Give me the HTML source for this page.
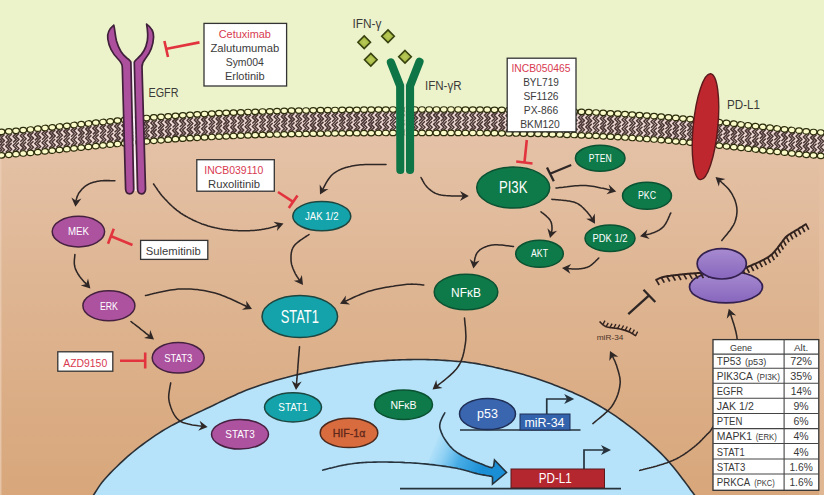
<!DOCTYPE html>
<html><head><meta charset="utf-8"><title>PD-L1 regulation</title>
<style>html,body{margin:0;padding:0;background:#ecf3ca;}body{width:824px;height:495px;overflow:hidden;}svg{display:block;font-family:"Liberation Sans",sans-serif;}</style>
</head><body>
<svg width="824" height="495" viewBox="0 0 824 495">
<defs>
<linearGradient id="cyto" x1="0" y1="0" x2="0" y2="1"><stop offset="0" stop-color="#e5c3a9"/><stop offset="0.45" stop-color="#deb592"/><stop offset="1" stop-color="#d8a67a"/></linearGradient>
<linearGradient id="rib" x1="0" y1="0" x2="0" y2="1"><stop offset="0" stop-color="#a78bd0"/><stop offset="1" stop-color="#8766bd"/></linearGradient>
<linearGradient id="bigarrow" gradientUnits="userSpaceOnUse" x1="432" y1="447" x2="482" y2="469"><stop offset="0" stop-color="#3aa8e6" stop-opacity="0"/><stop offset="0.25" stop-color="#38a8e6" stop-opacity="0.3"/><stop offset="0.55" stop-color="#2d9fe0" stop-opacity="0.8"/><stop offset="1" stop-color="#1b8fd6" stop-opacity="1"/></linearGradient>
<radialGradient id="dia"><stop offset="0" stop-color="#bccb5a"/><stop offset="1" stop-color="#9db23a"/></radialGradient>
</defs>
<rect width="824" height="495" fill="#ecf3ca"/>
<path d="M-4,500 L-4,144 L4,143.5 L12,142.8 L20,142.1 L28,141.4 L36,140.6 L44,139.8 L52,139 L60,138.2 L68,137.3 L76,136.5 L84,135.6 L92,134.8 L100,134 L108,133.2 L116,132.4 L124,131.7 L132,131 L140,130.3 L148,129.6 L156,128.9 L164,128.3 L172,127.7 L180,127.2 L188,126.7 L196,126.2 L204,125.7 L212,125.3 L220,124.9 L228,124.5 L236,124.2 L244,123.9 L252,123.6 L260,123.3 L268,123.1 L276,122.8 L284,122.6 L292,122.4 L300,122.3 L308,122.1 L316,122 L324,121.9 L332,121.7 L340,121.6 L348,121.6 L356,121.5 L364,121.4 L372,121.4 L380,121.3 L388,121.3 L396,121.2 L404,121.2 L412,121.2 L420,121.2 L428,121.2 L436,121.2 L444,121.2 L452,121.2 L460,121.2 L468,121.3 L476,121.3 L484,121.4 L492,121.5 L500,121.6 L508,121.7 L516,121.8 L524,121.9 L532,122.1 L540,122.3 L548,122.5 L556,122.7 L564,122.9 L572,123.2 L580,123.5 L588,123.9 L596,124.2 L604,124.6 L612,125 L620,125.5 L628,126 L636,126.5 L644,127.1 L652,127.7 L660,128.3 L668,128.9 L676,129.6 L684,130.4 L692,131.1 L700,131.9 L708,132.7 L716,133.5 L724,134.4 L732,135.2 L740,136.1 L748,137 L756,137.9 L764,138.8 L772,139.6 L780,140.5 L788,141.3 L796,142.1 L804,142.9 L812,143.5 L820,144.2 L828,144.7 L830,500 Z" fill="url(#cyto)"/>
<rect x="0" y="150" width="1.5" height="345" fill="#ecd0b8" opacity="0.7"/>
<rect x="819" y="150" width="5" height="345" fill="#e6c2a4" opacity="0.6"/>
<path d="M84,510 L85,508.4 L86.5,506.1 L88.1,503.5 L90,500.6 L91.8,497.7 L93.6,495 L95.2,492.5 L96.7,490.1 L98.3,487.6 L100,485.1 L101.9,482.5 L104.2,479.7 L106.9,476.7 L110,473.4 L113.3,470 L116.7,466.7 L120.1,463.4 L123.4,460.3 L126.6,457.4 L129.8,454.7 L133,452 L136.2,449.4 L139.4,446.9 L142.6,444.5 L145.8,442.1 L149,439.8 L152.2,437.6 L155.4,435.4 L158.6,433.3 L161.8,431.3 L164.9,429.4 L168,427.6 L171,425.9 L174.2,424.2 L177.5,422.5 L181,420.7 L184.9,418.8 L189.2,416.7 L193.6,414.6 L198,412.6 L202.2,410.6 L206,408.8 L209.4,407.2 L212.6,405.7 L215.5,404.2 L218.3,402.9 L221.1,401.5 L224,400.2 L226.9,398.8 L229.7,397.5 L232.6,396.2 L235.4,394.9 L238.2,393.6 L241,392.4 L243.8,391.2 L246.7,390.1 L249.5,389 L252.3,388 L255.2,387 L258,386 L260.8,385 L263.7,384.1 L266.5,383.2 L269.3,382.3 L272.2,381.4 L275,380.6 L277.8,379.8 L280.7,379 L283.5,378.2 L286.3,377.5 L289.2,376.7 L292,376 L294.8,375.3 L297.7,374.6 L300.6,373.9 L303.4,373.3 L306.2,372.6 L309,372 L311.8,371.4 L314.6,370.8 L317.3,370.3 L320,369.7 L322.6,369.3 L325,368.8 L327.2,368.4 L329.1,368.1 L330.9,367.8 L332.8,367.5 L334.8,367.2 L337,366.8 L339.5,366.3 L342.3,365.8 L345.2,365.3 L348.1,364.8 L351.1,364.3 L354,363.8 L356.8,363.4 L359.7,363 L362.5,362.6 L365.3,362.3 L368.2,362 L371,361.7 L373.8,361.4 L376.7,361.2 L379.5,361 L382.3,360.8 L385.2,360.6 L388,360.4 L390.8,360.2 L393.7,360.1 L396.5,360 L399.3,359.9 L402.2,359.8 L405,359.7 L407.8,359.6 L410.7,359.6 L413.5,359.5 L416.3,359.5 L419.2,359.5 L422,359.5 L424.8,359.5 L427.7,359.6 L430.6,359.7 L433.4,359.8 L436.2,359.9 L439,360 L441.8,360.2 L444.6,360.4 L447.3,360.6 L450,360.8 L452.6,361 L455,361.2 L457.2,361.4 L459.1,361.5 L460.9,361.6 L462.8,361.7 L464.8,361.9 L467,362.2 L469.5,362.6 L472.3,363 L475.2,363.4 L478.1,363.9 L481.1,364.5 L484,365 L486.8,365.6 L489.7,366.2 L492.5,366.8 L495.3,367.5 L498.2,368.1 L501,368.8 L503.8,369.5 L506.7,370.1 L509.5,370.8 L512.3,371.5 L515.2,372.2 L518,373 L520.8,373.8 L523.7,374.6 L526.5,375.4 L529.3,376.3 L532.2,377.2 L535,378.1 L537.8,379 L540.7,380 L543.5,381 L546.3,382 L549.2,383 L552,384.1 L554.8,385.2 L557.7,386.3 L560.5,387.4 L563.3,388.5 L566.2,389.7 L569,390.9 L571.9,392.1 L574.8,393.4 L577.7,394.7 L580.5,396 L583.4,397.3 L586.2,398.7 L588.9,400.1 L591.6,401.5 L594.3,403 L597,404.5 L599.6,406 L602.3,407.6 L605,409.2 L607.7,410.9 L610.4,412.7 L613.1,414.4 L615.8,416.2 L618.5,418.1 L621.1,420 L623.7,421.8 L626.3,423.8 L629,425.8 L631.7,427.9 L634.6,430.2 L637.7,432.7 L641,435.5 L644.5,438.4 L647.9,441.3 L651.1,444.2 L654.1,446.9 L656.8,449.4 L659.2,451.7 L661.5,453.9 L663.8,456.2 L666,458.6 L668.3,461.1 L670.7,463.9 L673.1,466.8 L675.5,469.8 L677.9,472.8 L680.2,475.8 L682.4,478.7 L684.6,481.5 L686.7,484.4 L688.7,487.1 L690.7,489.9 L692.7,492.5 L694.5,495 L696.3,497.5 L698.2,500.1 L700,502.5 L701.6,504.8 L703,506.6 L704,508 L704,512 L84,512 Z" fill="#b6e3fa" stroke="none"/>
<path d="M84,510 L85,508.4 L86.5,506.1 L88.1,503.5 L90,500.6 L91.8,497.7 L93.6,495 L95.2,492.5 L96.7,490.1 L98.3,487.6 L100,485.1 L101.9,482.5 L104.2,479.7 L106.9,476.7 L110,473.4 L113.3,470 L116.7,466.7 L120.1,463.4 L123.4,460.3 L126.6,457.4 L129.8,454.7 L133,452 L136.2,449.4 L139.4,446.9 L142.6,444.5 L145.8,442.1 L149,439.8 L152.2,437.6 L155.4,435.4 L158.6,433.3 L161.8,431.3 L164.9,429.4 L168,427.6 L171,425.9 L174.2,424.2 L177.5,422.5 L181,420.7 L184.9,418.8 L189.2,416.7 L193.6,414.6 L198,412.6 L202.2,410.6 L206,408.8 L209.4,407.2 L212.6,405.7 L215.5,404.2 L218.3,402.9 L221.1,401.5 L224,400.2 L226.9,398.8 L229.7,397.5 L232.6,396.2 L235.4,394.9 L238.2,393.6 L241,392.4 L243.8,391.2 L246.7,390.1 L249.5,389 L252.3,388 L255.2,387 L258,386 L260.8,385 L263.7,384.1 L266.5,383.2 L269.3,382.3 L272.2,381.4 L275,380.6 L277.8,379.8 L280.7,379 L283.5,378.2 L286.3,377.5 L289.2,376.7 L292,376 L294.8,375.3 L297.7,374.6 L300.6,373.9 L303.4,373.3 L306.2,372.6 L309,372 L311.8,371.4 L314.6,370.8 L317.3,370.3 L320,369.7 L322.6,369.3 L325,368.8 L327.2,368.4 L329.1,368.1 L330.9,367.8 L332.8,367.5 L334.8,367.2 L337,366.8 L339.5,366.3 L342.3,365.8 L345.2,365.3 L348.1,364.8 L351.1,364.3 L354,363.8 L356.8,363.4 L359.7,363 L362.5,362.6 L365.3,362.3 L368.2,362 L371,361.7 L373.8,361.4 L376.7,361.2 L379.5,361 L382.3,360.8 L385.2,360.6 L388,360.4 L390.8,360.2 L393.7,360.1 L396.5,360 L399.3,359.9 L402.2,359.8 L405,359.7 L407.8,359.6 L410.7,359.6 L413.5,359.5 L416.3,359.5 L419.2,359.5 L422,359.5 L424.8,359.5 L427.7,359.6 L430.6,359.7 L433.4,359.8 L436.2,359.9 L439,360 L441.8,360.2 L444.6,360.4 L447.3,360.6 L450,360.8 L452.6,361 L455,361.2 L457.2,361.4 L459.1,361.5 L460.9,361.6 L462.8,361.7 L464.8,361.9 L467,362.2 L469.5,362.6 L472.3,363 L475.2,363.4 L478.1,363.9 L481.1,364.5 L484,365 L486.8,365.6 L489.7,366.2 L492.5,366.8 L495.3,367.5 L498.2,368.1 L501,368.8 L503.8,369.5 L506.7,370.1 L509.5,370.8 L512.3,371.5 L515.2,372.2 L518,373 L520.8,373.8 L523.7,374.6 L526.5,375.4 L529.3,376.3 L532.2,377.2 L535,378.1 L537.8,379 L540.7,380 L543.5,381 L546.3,382 L549.2,383 L552,384.1 L554.8,385.2 L557.7,386.3 L560.5,387.4 L563.3,388.5 L566.2,389.7 L569,390.9 L571.9,392.1 L574.8,393.4 L577.7,394.7 L580.5,396 L583.4,397.3 L586.2,398.7 L588.9,400.1 L591.6,401.5 L594.3,403 L597,404.5 L599.6,406 L602.3,407.6 L605,409.2 L607.7,410.9 L610.4,412.7 L613.1,414.4 L615.8,416.2 L618.5,418.1 L621.1,420 L623.7,421.8 L626.3,423.8 L629,425.8 L631.7,427.9 L634.6,430.2 L637.7,432.7 L641,435.5 L644.5,438.4 L647.9,441.3 L651.1,444.2 L654.1,446.9 L656.8,449.4 L659.2,451.7 L661.5,453.9 L663.8,456.2 L666,458.6 L668.3,461.1 L670.7,463.9 L673.1,466.8 L675.5,469.8 L677.9,472.8 L680.2,475.8 L682.4,478.7 L684.6,481.5 L686.7,484.4 L688.7,487.1 L690.7,489.9 L692.7,492.5 L694.5,495 L696.3,497.5 L698.2,500.1 L700,502.5 L701.6,504.8 L703,506.6 L704,508" fill="none" stroke="#2b3036" stroke-width="1.6"/>
<path d="M-4,133.3 L4,132.8 L12,132.1 L20,131.4 L28,130.7 L36,129.9 L44,129.1 L52,128.3 L60,127.5 L68,126.6 L76,125.8 L84,124.9 L92,124.1 L100,123.3 L108,122.5 L116,121.7 L124,121 L132,120.3 L140,119.6 L148,118.9 L156,118.2 L164,117.6 L172,117 L180,116.5 L188,116 L196,115.5 L204,115 L212,114.6 L220,114.2 L228,113.8 L236,113.5 L244,113.2 L252,112.9 L260,112.6 L268,112.4 L276,112.1 L284,111.9 L292,111.7 L300,111.6 L308,111.4 L316,111.3 L324,111.2 L332,111 L340,110.9 L348,110.9 L356,110.8 L364,110.7 L372,110.7 L380,110.6 L388,110.6 L396,110.5 L404,110.5 L412,110.5 L420,110.5 L428,110.5 L436,110.5 L444,110.5 L452,110.5 L460,110.5 L468,110.6 L476,110.6 L484,110.7 L492,110.8 L500,110.9 L508,111 L516,111.1 L524,111.2 L532,111.4 L540,111.6 L548,111.8 L556,112 L564,112.2 L572,112.5 L580,112.8 L588,113.2 L596,113.5 L604,113.9 L612,114.3 L620,114.8 L628,115.3 L636,115.8 L644,116.4 L652,117 L660,117.6 L668,118.2 L676,118.9 L684,119.7 L692,120.4 L700,121.2 L708,122 L716,122.8 L724,123.7 L732,124.5 L740,125.4 L748,126.3 L756,127.2 L764,128.1 L772,128.9 L780,129.8 L788,130.6 L796,131.4 L804,132.2 L812,132.8 L820,133.5 L828,134 L828,155.4 L820,154.9 L812,154.2 L804,153.6 L796,152.8 L788,152 L780,151.2 L772,150.3 L764,149.5 L756,148.6 L748,147.7 L740,146.8 L732,145.9 L724,145.1 L716,144.2 L708,143.4 L700,142.6 L692,141.8 L684,141.1 L676,140.3 L668,139.6 L660,139 L652,138.4 L644,137.8 L636,137.2 L628,136.7 L620,136.2 L612,135.7 L604,135.3 L596,134.9 L588,134.6 L580,134.2 L572,133.9 L564,133.6 L556,133.4 L548,133.2 L540,133 L532,132.8 L524,132.6 L516,132.5 L508,132.4 L500,132.3 L492,132.2 L484,132.1 L476,132 L468,132 L460,131.9 L452,131.9 L444,131.9 L436,131.9 L428,131.9 L420,131.9 L412,131.9 L404,131.9 L396,131.9 L388,132 L380,132 L372,132.1 L364,132.1 L356,132.2 L348,132.3 L340,132.3 L332,132.4 L324,132.6 L316,132.7 L308,132.8 L300,133 L292,133.1 L284,133.3 L276,133.5 L268,133.8 L260,134 L252,134.3 L244,134.6 L236,134.9 L228,135.2 L220,135.6 L212,136 L204,136.4 L196,136.9 L188,137.4 L180,137.9 L172,138.4 L164,139 L156,139.6 L148,140.3 L140,141 L132,141.7 L124,142.4 L116,143.1 L108,143.9 L100,144.7 L92,145.5 L84,146.3 L76,147.2 L68,148 L60,148.9 L52,149.7 L44,150.5 L36,151.3 L28,152.1 L20,152.8 L12,153.5 L4,154.2 L-4,154.7 Z" fill="#edd8d3"/>
<g id="mem">
<path d="M1.8,134.5 L-1.5,137.6 L1.8,140.6 L-1.5,143.6 M4.5,134.5 L1.2,137.6 L4.5,140.6 L1.2,143.6 M-1.5,152.7 L1.8,149.7 L-1.5,146.7 L1.8,143.6 M1.2,152.7 L4.5,149.7 L1.2,146.7 L4.5,143.6 M9,134 L5.8,137 L9,140.1 L5.8,143.1 M11.7,134 L8.5,137 L11.7,140.1 L8.5,143.1 M5.8,152.2 L9,149.2 L5.8,146.1 L9,143.1 M8.5,152.2 L11.7,149.2 L8.5,146.1 L11.7,143.1 M16.2,133.4 L13.1,136.4 L16.2,139.4 L13.1,142.5 M19,133.4 L15.8,136.4 L19,139.4 L15.8,142.5 M13.1,151.6 L16.2,148.5 L13.1,145.5 L16.2,142.5 M15.8,151.6 L19,148.5 L15.8,145.5 L19,142.5 M23.5,132.7 L20.3,135.8 L23.5,138.8 L20.3,141.8 M26.2,132.7 L23,135.8 L26.2,138.8 L23,141.8 M20.3,150.9 L23.5,147.9 L20.3,144.9 L23.5,141.8 M23,150.9 L26.2,147.9 L23,144.9 L26.2,141.8 M30.8,132.1 L27.5,135.1 L30.8,138.1 L27.5,141.2 M33.5,132.1 L30.2,135.1 L33.5,138.1 L30.2,141.2 M27.5,150.3 L30.8,147.2 L27.5,144.2 L30.8,141.2 M30.2,150.3 L33.5,147.2 L30.2,144.2 L33.5,141.2 M38,131.3 L34.8,134.4 L38,137.4 L34.8,140.4 M40.7,131.3 L37.5,134.4 L40.7,137.4 L37.5,140.4 M34.8,149.5 L38,146.5 L34.8,143.5 L38,140.4 M37.5,149.5 L40.7,146.5 L37.5,143.5 L40.7,140.4 M45.2,130.6 L42,133.6 L45.2,136.7 L42,139.7 M48,130.6 L44.8,133.6 L48,136.7 L44.8,139.7 M42,148.8 L45.2,145.8 L42,142.7 L45.2,139.7 M44.8,148.8 L48,145.8 L44.8,142.7 L48,139.7 M52.5,129.9 L49.3,132.9 L52.5,135.9 L49.3,139 M55.2,129.9 L52,132.9 L55.2,135.9 L52,139 M49.3,148.1 L52.5,145 L49.3,142 L52.5,139 M52,148.1 L55.2,145 L52,142 L55.2,139 M59.8,129.1 L56.5,132.1 L59.8,135.2 L56.5,138.2 M62.5,129.1 L59.2,132.1 L62.5,135.2 L59.2,138.2 M56.5,147.3 L59.8,144.3 L56.5,141.2 L59.8,138.2 M59.2,147.3 L62.5,144.3 L59.2,141.2 L62.5,138.2 M67,128.4 L63.8,131.4 L67,134.4 L63.8,137.5 M69.7,128.4 L66.5,131.4 L69.7,134.4 L66.5,137.5 M63.8,146.6 L67,143.5 L63.8,140.5 L67,137.5 M66.5,146.6 L69.7,143.5 L66.5,140.5 L69.7,137.5 M74.2,127.6 L71.1,130.6 L74.2,133.7 L71.1,136.7 M76.9,127.6 L73.8,130.6 L76.9,133.7 L73.8,136.7 M71.1,145.8 L74.2,142.8 L71.1,139.7 L74.2,136.7 M73.8,145.8 L76.9,142.8 L73.8,139.7 L76.9,136.7 M81.5,126.8 L78.3,129.9 L81.5,132.9 L78.3,135.9 M84.2,126.8 L81,129.9 L84.2,132.9 L81,135.9 M78.3,145 L81.5,142 L78.3,139 L81.5,135.9 M81,145 L84.2,142 L81,139 L84.2,135.9 M88.8,126.1 L85.6,129.1 L88.8,132.1 L85.6,135.2 M91.4,126.1 L88.2,129.1 L91.4,132.1 L88.2,135.2 M85.6,144.3 L88.8,141.2 L85.6,138.2 L88.8,135.2 M88.2,144.3 L91.4,141.2 L88.2,138.2 L91.4,135.2 M96,125.3 L92.8,128.4 L96,131.4 L92.8,134.4 M98.7,125.3 L95.5,128.4 L98.7,131.4 L95.5,134.4 M92.8,143.5 L96,140.5 L92.8,137.5 L96,134.4 M95.5,143.5 L98.7,140.5 L95.5,137.5 L98.7,134.4 M103.2,124.6 L100.1,127.6 L103.2,130.7 L100.1,133.7 M105.9,124.6 L102.8,127.6 L105.9,130.7 L102.8,133.7 M100.1,142.8 L103.2,139.8 L100.1,136.7 L103.2,133.7 M102.8,142.8 L105.9,139.8 L102.8,136.7 L105.9,133.7 M110.5,123.9 L107.3,126.9 L110.5,130 L107.3,133 M113.2,123.9 L110,126.9 L113.2,130 L110,133 M107.3,142.1 L110.5,139.1 L107.3,136 L110.5,133 M110,142.1 L113.2,139.1 L110,136 L113.2,133 M117.8,123.2 L114.6,126.2 L117.8,129.3 L114.6,132.3 M120.4,123.2 L117.2,126.2 L120.4,129.3 L117.2,132.3 M114.6,141.4 L117.8,138.4 L114.6,135.3 L117.8,132.3 M117.2,141.4 L120.4,138.4 L117.2,135.3 L120.4,132.3 M125,122.5 L121.8,125.5 L125,128.6 L121.8,131.6 M127.7,122.5 L124.5,125.5 L127.7,128.6 L124.5,131.6 M121.8,140.7 L125,137.7 L121.8,134.6 L125,131.6 M124.5,140.7 L127.7,137.7 L124.5,134.6 L127.7,131.6 M132.2,121.9 L129.1,124.9 L132.2,127.9 L129.1,131 M134.9,121.9 L131.8,124.9 L134.9,127.9 L131.8,131 M129.1,140.1 L132.2,137 L129.1,134 L132.2,131 M131.8,140.1 L134.9,137 L131.8,134 L134.9,131 M139.5,121.2 L136.3,124.2 L139.5,127.3 L136.3,130.3 M142.2,121.2 L139,124.2 L142.2,127.3 L139,130.3 M136.3,139.4 L139.5,136.4 L136.3,133.3 L139.5,130.3 M139,139.4 L142.2,136.4 L139,133.3 L142.2,130.3 M146.8,120.6 L143.6,123.6 L146.8,126.7 L143.6,129.7 M149.4,120.6 L146.2,123.6 L149.4,126.7 L146.2,129.7 M143.6,138.8 L146.8,135.8 L143.6,132.7 L146.8,129.7 M146.2,138.8 L149.4,135.8 L146.2,132.7 L149.4,129.7 M154,120 L150.8,123 L154,126.1 L150.8,129.1 M156.7,120 L153.5,123 L156.7,126.1 L153.5,129.1 M150.8,138.2 L154,135.2 L150.8,132.1 L154,129.1 M153.5,138.2 L156.7,135.2 L153.5,132.1 L156.7,129.1 M161.2,119.5 L158.1,122.5 L161.2,125.5 L158.1,128.6 M163.9,119.5 L160.8,122.5 L163.9,125.5 L160.8,128.6 M158.1,137.7 L161.2,134.6 L158.1,131.6 L161.2,128.6 M160.8,137.7 L163.9,134.6 L160.8,131.6 L163.9,128.6 M168.5,118.9 L165.3,121.9 L168.5,125 L165.3,128 M171.2,118.9 L168,121.9 L171.2,125 L168,128 M165.3,137.1 L168.5,134.1 L165.3,131 L168.5,128 M168,137.1 L171.2,134.1 L168,131 L171.2,128 M175.8,118.4 L172.6,121.4 L175.8,124.5 L172.6,127.5 M178.4,118.4 L175.2,121.4 L178.4,124.5 L175.2,127.5 M172.6,136.6 L175.8,133.6 L172.6,130.5 L175.8,127.5 M175.2,136.6 L178.4,133.6 L175.2,130.5 L178.4,127.5 M183,117.9 L179.8,120.9 L183,124 L179.8,127 M185.7,117.9 L182.5,120.9 L185.7,124 L182.5,127 M179.8,136.1 L183,133.1 L179.8,130 L183,127 M182.5,136.1 L185.7,133.1 L182.5,130 L185.7,127 M190.2,117.4 L187.1,120.5 L190.2,123.5 L187.1,126.5 M192.9,117.4 L189.8,120.5 L192.9,123.5 L189.8,126.5 M187.1,135.6 L190.2,132.6 L187.1,129.6 L190.2,126.5 M189.8,135.6 L192.9,132.6 L189.8,129.6 L192.9,126.5 M197.5,117 L194.3,120 L197.5,123.1 L194.3,126.1 M200.2,117 L197,120 L200.2,123.1 L197,126.1 M194.3,135.2 L197.5,132.2 L194.3,129.1 L197.5,126.1 M197,135.2 L200.2,132.2 L197,129.1 L200.2,126.1 M204.8,116.6 L201.6,119.6 L204.8,122.7 L201.6,125.7 M207.4,116.6 L204.2,119.6 L207.4,122.7 L204.2,125.7 M201.6,134.8 L204.8,131.8 L201.6,128.7 L204.8,125.7 M204.2,134.8 L207.4,131.8 L204.2,128.7 L207.4,125.7 M212,116.2 L208.8,119.2 L212,122.3 L208.8,125.3 M214.7,116.2 L211.5,119.2 L214.7,122.3 L211.5,125.3 M208.8,134.4 L212,131.4 L208.8,128.3 L212,125.3 M211.5,134.4 L214.7,131.4 L211.5,128.3 L214.7,125.3 M219.2,115.8 L216.1,118.9 L219.2,121.9 L216.1,124.9 M221.9,115.8 L218.8,118.9 L221.9,121.9 L218.8,124.9 M216.1,134 L219.2,131 L216.1,128 L219.2,124.9 M218.8,134 L221.9,131 L218.8,128 L221.9,124.9 M226.5,115.5 L223.3,118.5 L226.5,121.6 L223.3,124.6 M229.2,115.5 L226,118.5 L229.2,121.6 L226,124.6 M223.3,133.7 L226.5,130.7 L223.3,127.6 L226.5,124.6 M226,133.7 L229.2,130.7 L226,127.6 L229.2,124.6 M233.8,115.2 L230.6,118.2 L233.8,121.3 L230.6,124.3 M236.4,115.2 L233.2,118.2 L236.4,121.3 L233.2,124.3 M230.6,133.4 L233.8,130.4 L230.6,127.3 L233.8,124.3 M233.2,133.4 L236.4,130.4 L233.2,127.3 L236.4,124.3 M241,114.9 L237.8,117.9 L241,121 L237.8,124 M243.7,114.9 L240.5,117.9 L243.7,121 L240.5,124 M237.8,133.1 L241,130.1 L237.8,127 L241,124 M240.5,133.1 L243.7,130.1 L240.5,127 L243.7,124 M248.2,114.6 L245.1,117.7 L248.2,120.7 L245.1,123.7 M250.9,114.6 L247.8,117.7 L250.9,120.7 L247.8,123.7 M245.1,132.8 L248.2,129.8 L245.1,126.8 L248.2,123.7 M247.8,132.8 L250.9,129.8 L247.8,126.8 L250.9,123.7 M255.5,114.4 L252.3,117.4 L255.5,120.4 L252.3,123.5 M258.2,114.4 L255,117.4 L258.2,120.4 L255,123.5 M252.3,132.6 L255.5,129.5 L252.3,126.5 L255.5,123.5 M255,132.6 L258.2,129.5 L255,126.5 L258.2,123.5 M262.8,114.1 L259.5,117.2 L262.8,120.2 L259.5,123.2 M265.5,114.1 L262.2,117.2 L265.5,120.2 L262.2,123.2 M259.5,132.3 L262.8,129.3 L259.5,126.3 L262.8,123.2 M262.2,132.3 L265.5,129.3 L262.2,126.3 L265.5,123.2 M270,113.9 L266.8,116.9 L270,120 L266.8,123 M272.7,113.9 L269.5,116.9 L272.7,120 L269.5,123 M266.8,132.1 L270,129.1 L266.8,126 L270,123 M269.5,132.1 L272.7,129.1 L269.5,126 L272.7,123 M277.2,113.7 L274,116.7 L277.2,119.8 L274,122.8 M280,113.7 L276.8,116.7 L280,119.8 L276.8,122.8 M274,131.9 L277.2,128.9 L274,125.8 L277.2,122.8 M276.8,131.9 L280,128.9 L276.8,125.8 L280,122.8 M284.5,113.5 L281.3,116.6 L284.5,119.6 L281.3,122.6 M287.2,113.5 L284,116.6 L287.2,119.6 L284,122.6 M281.3,131.7 L284.5,128.7 L281.3,125.7 L284.5,122.6 M284,131.7 L287.2,128.7 L284,125.7 L287.2,122.6 M291.8,113.3 L288.5,116.4 L291.8,119.4 L288.5,122.4 M294.5,113.3 L291.2,116.4 L294.5,119.4 L291.2,122.4 M288.5,131.5 L291.8,128.5 L288.5,125.5 L291.8,122.4 M291.2,131.5 L294.5,128.5 L291.2,125.5 L294.5,122.4 M299,113.2 L295.8,116.2 L299,119.3 L295.8,122.3 M301.7,113.2 L298.5,116.2 L301.7,119.3 L298.5,122.3 M295.8,131.4 L299,128.4 L295.8,125.3 L299,122.3 M298.5,131.4 L301.7,128.4 L298.5,125.3 L301.7,122.3 M306.2,113.1 L303,116.1 L306.2,119.1 L303,122.2 M309,113.1 L305.8,116.1 L309,119.1 L305.8,122.2 M303,131.3 L306.2,128.2 L303,125.2 L306.2,122.2 M305.8,131.3 L309,128.2 L305.8,125.2 L309,122.2 M313.5,112.9 L310.3,116 L313.5,119 L310.3,122 M316.2,112.9 L313,116 L316.2,119 L313,122 M310.3,131.1 L313.5,128.1 L310.3,125.1 L313.5,122 M313,131.1 L316.2,128.1 L313,125.1 L316.2,122 M320.8,112.8 L317.5,115.8 L320.8,118.9 L317.5,121.9 M323.5,112.8 L320.2,115.8 L323.5,118.9 L320.2,121.9 M317.5,131 L320.8,128 L317.5,124.9 L320.8,121.9 M320.2,131 L323.5,128 L320.2,124.9 L323.5,121.9 M328,112.7 L324.8,115.7 L328,118.8 L324.8,121.8 M330.7,112.7 L327.5,115.7 L330.7,118.8 L327.5,121.8 M324.8,130.9 L328,127.9 L324.8,124.8 L328,121.8 M327.5,130.9 L330.7,127.9 L327.5,124.8 L330.7,121.8 M335.2,112.6 L332,115.6 L335.2,118.7 L332,121.7 M338,112.6 L334.8,115.6 L338,118.7 L334.8,121.7 M332,130.8 L335.2,127.8 L332,124.7 L335.2,121.7 M334.8,130.8 L338,127.8 L334.8,124.7 L338,121.7 M342.5,112.5 L339.3,115.6 L342.5,118.6 L339.3,121.6 M345.2,112.5 L342,115.6 L345.2,118.6 L342,121.6 M339.3,130.7 L342.5,127.7 L339.3,124.7 L342.5,121.6 M342,130.7 L345.2,127.7 L342,124.7 L345.2,121.6 M349.8,112.4 L346.5,115.5 L349.8,118.5 L346.5,121.5 M352.5,112.4 L349.2,115.5 L352.5,118.5 L349.2,121.5 M346.5,130.6 L349.8,127.6 L346.5,124.6 L349.8,121.5 M349.2,130.6 L352.5,127.6 L349.2,124.6 L352.5,121.5 M357,112.4 L353.8,115.4 L357,118.4 L353.8,121.5 M359.7,112.4 L356.5,115.4 L359.7,118.4 L356.5,121.5 M353.8,130.6 L357,127.5 L353.8,124.5 L357,121.5 M356.5,130.6 L359.7,127.5 L356.5,124.5 L359.7,121.5 M364.2,112.3 L361,115.3 L364.2,118.4 L361,121.4 M367,112.3 L363.8,115.3 L367,118.4 L363.8,121.4 M361,130.5 L364.2,127.5 L361,124.4 L364.2,121.4 M363.8,130.5 L367,127.5 L363.8,124.4 L367,121.4 M371.5,112.3 L368.3,115.3 L371.5,118.3 L368.3,121.4 M374.2,112.3 L371,115.3 L374.2,118.3 L371,121.4 M368.3,130.5 L371.5,127.4 L368.3,124.4 L371.5,121.4 M371,130.5 L374.2,127.4 L371,124.4 L374.2,121.4 M378.8,112.2 L375.5,115.2 L378.8,118.3 L375.5,121.3 M381.5,112.2 L378.2,115.2 L381.5,118.3 L378.2,121.3 M375.5,130.4 L378.8,127.4 L375.5,124.3 L378.8,121.3 M378.2,130.4 L381.5,127.4 L378.2,124.3 L381.5,121.3 M386,112.2 L382.8,115.2 L386,118.2 L382.8,121.3 M388.7,112.2 L385.5,115.2 L388.7,118.2 L385.5,121.3 M382.8,130.4 L386,127.3 L382.8,124.3 L386,121.3 M385.5,130.4 L388.7,127.3 L385.5,124.3 L388.7,121.3 M393.2,112.1 L390,115.2 L393.2,118.2 L390,121.2 M396,112.1 L392.8,115.2 L396,118.2 L392.8,121.2 M390,130.3 L393.2,127.3 L390,124.3 L393.2,121.2 M392.8,130.3 L396,127.3 L392.8,124.3 L396,121.2 M400.5,112.1 L397.3,115.1 L400.5,118.2 L397.3,121.2 M403.2,112.1 L400,115.1 L403.2,118.2 L400,121.2 M397.3,130.3 L400.5,127.3 L397.3,124.2 L400.5,121.2 M400,130.3 L403.2,127.3 L400,124.2 L403.2,121.2 M407.8,112.1 L404.5,115.1 L407.8,118.2 L404.5,121.2 M410.5,112.1 L407.2,115.1 L410.5,118.2 L407.2,121.2 M404.5,130.3 L407.8,127.3 L404.5,124.2 L407.8,121.2 M407.2,130.3 L410.5,127.3 L407.2,124.2 L410.5,121.2 M415,112.1 L411.8,115.1 L415,118.1 L411.8,121.2 M417.7,112.1 L414.5,115.1 L417.7,118.1 L414.5,121.2 M411.8,130.3 L415,127.2 L411.8,124.2 L415,121.2 M414.5,130.3 L417.7,127.2 L414.5,124.2 L417.7,121.2 M422.2,112.1 L419,115.1 L422.2,118.1 L419,121.2 M425,112.1 L421.8,115.1 L425,118.1 L421.8,121.2 M419,130.3 L422.2,127.2 L419,124.2 L422.2,121.2 M421.8,130.3 L425,127.2 L421.8,124.2 L425,121.2 M429.5,112.1 L426.3,115.1 L429.5,118.1 L426.3,121.2 M432.2,112.1 L429,115.1 L432.2,118.1 L429,121.2 M426.3,130.3 L429.5,127.2 L426.3,124.2 L429.5,121.2 M429,130.3 L432.2,127.2 L429,124.2 L432.2,121.2 M436.8,112.1 L433.5,115.1 L436.8,118.1 L433.5,121.2 M439.5,112.1 L436.2,115.1 L439.5,118.1 L436.2,121.2 M433.5,130.3 L436.8,127.2 L433.5,124.2 L436.8,121.2 M436.2,130.3 L439.5,127.2 L436.2,124.2 L439.5,121.2 M444,112.1 L440.8,115.1 L444,118.1 L440.8,121.2 M446.7,112.1 L443.5,115.1 L446.7,118.1 L443.5,121.2 M440.8,130.3 L444,127.2 L440.8,124.2 L444,121.2 M443.5,130.3 L446.7,127.2 L443.5,124.2 L446.7,121.2 M451.2,112.1 L448,115.1 L451.2,118.2 L448,121.2 M454,112.1 L450.8,115.1 L454,118.2 L450.8,121.2 M448,130.3 L451.2,127.3 L448,124.2 L451.2,121.2 M450.8,130.3 L454,127.3 L450.8,124.2 L454,121.2 M458.5,112.1 L455.3,115.2 L458.5,118.2 L455.3,121.2 M461.2,112.1 L458,115.2 L461.2,118.2 L458,121.2 M455.3,130.3 L458.5,127.3 L455.3,124.3 L458.5,121.2 M458,130.3 L461.2,127.3 L458,124.3 L461.2,121.2 M465.8,112.2 L462.5,115.2 L465.8,118.2 L462.5,121.3 M468.5,112.2 L465.2,115.2 L468.5,118.2 L465.2,121.3 M462.5,130.4 L465.8,127.3 L462.5,124.3 L465.8,121.3 M465.2,130.4 L468.5,127.3 L465.2,124.3 L468.5,121.3 M473,112.2 L469.8,115.2 L473,118.3 L469.8,121.3 M475.7,112.2 L472.5,115.2 L475.7,118.3 L472.5,121.3 M469.8,130.4 L473,127.4 L469.8,124.3 L473,121.3 M472.5,130.4 L475.7,127.4 L472.5,124.3 L475.7,121.3 M480.2,112.2 L477,115.3 L480.2,118.3 L477,121.3 M483,112.2 L479.8,115.3 L483,118.3 L479.8,121.3 M477,130.4 L480.2,127.4 L477,124.4 L480.2,121.3 M479.8,130.4 L483,127.4 L479.8,124.4 L483,121.3 M487.5,112.3 L484.3,115.3 L487.5,118.4 L484.3,121.4 M490.2,112.3 L487,115.3 L490.2,118.4 L487,121.4 M484.3,130.5 L487.5,127.5 L484.3,124.4 L487.5,121.4 M487,130.5 L490.2,127.5 L487,124.4 L490.2,121.4 M494.8,112.4 L491.5,115.4 L494.8,118.5 L491.5,121.5 M497.5,112.4 L494.2,115.4 L497.5,118.5 L494.2,121.5 M491.5,130.6 L494.8,127.6 L491.5,124.5 L494.8,121.5 M494.2,130.6 L497.5,127.6 L494.2,124.5 L497.5,121.5 M502,112.5 L498.8,115.5 L502,118.5 L498.8,121.6 M504.7,112.5 L501.5,115.5 L504.7,118.5 L501.5,121.6 M498.8,130.7 L502,127.6 L498.8,124.6 L502,121.6 M501.5,130.7 L504.7,127.6 L501.5,124.6 L504.7,121.6 M509.2,112.6 L506,115.6 L509.2,118.6 L506,121.7 M512,112.6 L508.8,115.6 L512,118.6 L508.8,121.7 M506,130.8 L509.2,127.7 L506,124.7 L509.2,121.7 M508.8,130.8 L512,127.7 L508.8,124.7 L512,121.7 M516.5,112.7 L513.3,115.7 L516.5,118.8 L513.3,121.8 M519.2,112.7 L516,115.7 L519.2,118.8 L516,121.8 M513.3,130.9 L516.5,127.9 L513.3,124.8 L516.5,121.8 M516,130.9 L519.2,127.9 L516,124.8 L519.2,121.8 M523.8,112.8 L520.5,115.9 L523.8,118.9 L520.5,121.9 M526.5,112.8 L523.2,115.9 L526.5,118.9 L523.2,121.9 M520.5,131 L523.8,128 L520.5,125 L523.8,121.9 M523.2,131 L526.5,128 L523.2,125 L526.5,121.9 M531,113 L527.8,116 L531,119 L527.8,122.1 M533.7,113 L530.5,116 L533.7,119 L530.5,122.1 M527.8,131.2 L531,128.1 L527.8,125.1 L531,122.1 M530.5,131.2 L533.7,128.1 L530.5,125.1 L533.7,122.1 M538.2,113.1 L535,116.2 L538.2,119.2 L535,122.2 M541,113.1 L537.8,116.2 L541,119.2 L537.8,122.2 M535,131.3 L538.2,128.3 L535,125.3 L538.2,122.2 M537.8,131.3 L541,128.3 L537.8,125.3 L541,122.2 M545.5,113.3 L542.3,116.3 L545.5,119.4 L542.3,122.4 M548.2,113.3 L545,116.3 L548.2,119.4 L545,122.4 M542.3,131.5 L545.5,128.5 L542.3,125.4 L545.5,122.4 M545,131.5 L548.2,128.5 L545,125.4 L548.2,122.4 M552.8,113.5 L549.5,116.5 L552.8,119.6 L549.5,122.6 M555.5,113.5 L552.2,116.5 L555.5,119.6 L552.2,122.6 M549.5,131.7 L552.8,128.7 L549.5,125.6 L552.8,122.6 M552.2,131.7 L555.5,128.7 L552.2,125.6 L555.5,122.6 M560,113.7 L556.8,116.7 L560,119.8 L556.8,122.8 M562.7,113.7 L559.5,116.7 L562.7,119.8 L559.5,122.8 M556.8,131.9 L560,128.9 L556.8,125.8 L560,122.8 M559.5,131.9 L562.7,128.9 L559.5,125.8 L562.7,122.8 M567.2,114 L564,117 L567.2,120 L564,123.1 M570,114 L566.8,117 L570,120 L566.8,123.1 M564,132.2 L567.2,129.1 L564,126.1 L567.2,123.1 M566.8,132.2 L570,129.1 L566.8,126.1 L570,123.1 M574.5,114.2 L571.3,117.2 L574.5,120.3 L571.3,123.3 M577.2,114.2 L574,117.2 L577.2,120.3 L574,123.3 M571.3,132.4 L574.5,129.4 L571.3,126.3 L574.5,123.3 M574,132.4 L577.2,129.4 L574,126.3 L577.2,123.3 M581.8,114.5 L578.5,117.5 L581.8,120.6 L578.5,123.6 M584.5,114.5 L581.2,117.5 L584.5,120.6 L581.2,123.6 M578.5,132.7 L581.8,129.7 L578.5,126.6 L581.8,123.6 M581.2,132.7 L584.5,129.7 L581.2,126.6 L584.5,123.6 M589,114.8 L585.8,117.8 L589,120.9 L585.8,123.9 M591.7,114.8 L588.5,117.8 L591.7,120.9 L588.5,123.9 M585.8,133 L589,130 L585.8,126.9 L589,123.9 M588.5,133 L591.7,130 L588.5,126.9 L591.7,123.9 M596.2,115.1 L593,118.2 L596.2,121.2 L593,124.2 M599,115.1 L595.8,118.2 L599,121.2 L595.8,124.2 M593,133.3 L596.2,130.3 L593,127.3 L596.2,124.2 M595.8,133.3 L599,130.3 L595.8,127.3 L599,124.2 M603.5,115.5 L600.3,118.5 L603.5,121.5 L600.3,124.6 M606.2,115.5 L603,118.5 L606.2,121.5 L603,124.6 M600.3,133.7 L603.5,130.6 L600.3,127.6 L603.5,124.6 M603,133.7 L606.2,130.6 L603,127.6 L606.2,124.6 M610.8,115.9 L607.5,118.9 L610.8,121.9 L607.5,125 M613.5,115.9 L610.2,118.9 L613.5,121.9 L610.2,125 M607.5,134.1 L610.8,131 L607.5,128 L610.8,125 M610.2,134.1 L613.5,131 L610.2,128 L613.5,125 M618,116.3 L614.8,119.3 L618,122.3 L614.8,125.4 M620.7,116.3 L617.5,119.3 L620.7,122.3 L617.5,125.4 M614.8,134.5 L618,131.4 L614.8,128.4 L618,125.4 M617.5,134.5 L620.7,131.4 L617.5,128.4 L620.7,125.4 M625.2,116.7 L622,119.7 L625.2,122.8 L622,125.8 M628,116.7 L624.8,119.7 L628,122.8 L624.8,125.8 M622,134.9 L625.2,131.9 L622,128.8 L625.2,125.8 M624.8,134.9 L628,131.9 L624.8,128.8 L628,125.8 M632.5,117.2 L629.3,120.2 L632.5,123.2 L629.3,126.3 M635.2,117.2 L632,120.2 L635.2,123.2 L632,126.3 M629.3,135.4 L632.5,132.3 L629.3,129.3 L632.5,126.3 M632,135.4 L635.2,132.3 L632,129.3 L635.2,126.3 M639.8,117.7 L636.5,120.7 L639.8,123.7 L636.5,126.8 M642.5,117.7 L639.2,120.7 L642.5,123.7 L639.2,126.8 M636.5,135.9 L639.8,132.8 L636.5,129.8 L639.8,126.8 M639.2,135.9 L642.5,132.8 L639.2,129.8 L642.5,126.8 M647,118.2 L643.8,121.2 L647,124.2 L643.8,127.3 M649.7,118.2 L646.5,121.2 L649.7,124.2 L646.5,127.3 M643.8,136.4 L647,133.3 L643.8,130.3 L647,127.3 M646.5,136.4 L649.7,133.3 L646.5,130.3 L649.7,127.3 M654.2,118.7 L651,121.7 L654.2,124.8 L651,127.8 M657,118.7 L653.8,121.7 L657,124.8 L653.8,127.8 M651,136.9 L654.2,133.9 L651,130.8 L654.2,127.8 M653.8,136.9 L657,133.9 L653.8,130.8 L657,127.8 M661.5,119.3 L658.3,122.3 L661.5,125.4 L658.3,128.4 M664.2,119.3 L661,122.3 L664.2,125.4 L661,128.4 M658.3,137.5 L661.5,134.5 L658.3,131.4 L661.5,128.4 M661,137.5 L664.2,134.5 L661,131.4 L664.2,128.4 M668.8,119.9 L665.5,122.9 L668.8,126 L665.5,129 M671.5,119.9 L668.2,122.9 L671.5,126 L668.2,129 M665.5,138.1 L668.8,135.1 L665.5,132 L668.8,129 M668.2,138.1 L671.5,135.1 L668.2,132 L671.5,129 M676,120.5 L672.8,123.5 L676,126.6 L672.8,129.6 M678.7,120.5 L675.5,123.5 L678.7,126.6 L675.5,129.6 M672.8,138.7 L676,135.7 L672.8,132.6 L676,129.6 M675.5,138.7 L678.7,135.7 L675.5,132.6 L678.7,129.6 M683.2,121.2 L680,124.2 L683.2,127.2 L680,130.3 M686,121.2 L682.8,124.2 L686,127.2 L682.8,130.3 M680,139.4 L683.2,136.3 L680,133.3 L683.2,130.3 M682.8,139.4 L686,136.3 L682.8,133.3 L686,130.3 M690.5,121.8 L687.3,124.9 L690.5,127.9 L687.3,130.9 M693.2,121.8 L690,124.9 L693.2,127.9 L690,130.9 M687.3,140 L690.5,137 L687.3,134 L690.5,130.9 M690,140 L693.2,137 L690,134 L693.2,130.9 M697.8,122.5 L694.5,125.6 L697.8,128.6 L694.5,131.6 M700.5,122.5 L697.2,125.6 L700.5,128.6 L697.2,131.6 M694.5,140.7 L697.8,137.7 L694.5,134.7 L697.8,131.6 M697.2,140.7 L700.5,137.7 L697.2,134.7 L700.5,131.6 M705,123.3 L701.8,126.3 L705,129.3 L701.8,132.4 M707.7,123.3 L704.5,126.3 L707.7,129.3 L704.5,132.4 M701.8,141.5 L705,138.4 L701.8,135.4 L705,132.4 M704.5,141.5 L707.7,138.4 L704.5,135.4 L707.7,132.4 M712.2,124 L709,127 L712.2,130.1 L709,133.1 M715,124 L711.8,127 L715,130.1 L711.8,133.1 M709,142.2 L712.2,139.2 L709,136.1 L712.2,133.1 M711.8,142.2 L715,139.2 L711.8,136.1 L715,133.1 M719.5,124.8 L716.3,127.8 L719.5,130.8 L716.3,133.9 M722.2,124.8 L719,127.8 L722.2,130.8 L719,133.9 M716.3,143 L719.5,139.9 L716.3,136.9 L719.5,133.9 M719,143 L722.2,139.9 L719,136.9 L722.2,133.9 M726.8,125.5 L723.5,128.6 L726.8,131.6 L723.5,134.6 M729.5,125.5 L726.2,128.6 L729.5,131.6 L726.2,134.6 M723.5,143.7 L726.8,140.7 L723.5,137.7 L726.8,134.6 M726.2,143.7 L729.5,140.7 L726.2,137.7 L729.5,134.6 M734,126.3 L730.8,129.4 L734,132.4 L730.8,135.4 M736.7,126.3 L733.5,129.4 L736.7,132.4 L733.5,135.4 M730.8,144.5 L734,141.5 L730.8,138.5 L734,135.4 M733.5,144.5 L736.7,141.5 L733.5,138.5 L736.7,135.4 M741.2,127.1 L738,130.1 L741.2,133.2 L738,136.2 M744,127.1 L740.8,130.1 L744,133.2 L740.8,136.2 M738,145.3 L741.2,142.3 L738,139.2 L741.2,136.2 M740.8,145.3 L744,142.3 L740.8,139.2 L744,136.2 M748.5,127.9 L745.3,130.9 L748.5,134 L745.3,137 M751.2,127.9 L748,130.9 L751.2,134 L748,137 M745.3,146.1 L748.5,143.1 L745.3,140 L748.5,137 M748,146.1 L751.2,143.1 L748,140 L751.2,137 M755.8,128.7 L752.5,131.8 L755.8,134.8 L752.5,137.8 M758.5,128.7 L755.2,131.8 L758.5,134.8 L755.2,137.8 M752.5,146.9 L755.8,143.9 L752.5,140.9 L755.8,137.8 M755.2,146.9 L758.5,143.9 L755.2,140.9 L758.5,137.8 M763,129.5 L759.8,132.6 L763,135.6 L759.8,138.6 M765.7,129.5 L762.5,132.6 L765.7,135.6 L762.5,138.6 M759.8,147.7 L763,144.7 L759.8,141.7 L763,138.6 M762.5,147.7 L765.7,144.7 L762.5,141.7 L765.7,138.6 M770.2,130.3 L767,133.3 L770.2,136.4 L767,139.4 M773,130.3 L769.8,133.3 L773,136.4 L769.8,139.4 M767,148.5 L770.2,145.5 L767,142.4 L770.2,139.4 M769.8,148.5 L773,145.5 L769.8,142.4 L773,139.4 M777.5,131.1 L774.3,134.1 L777.5,137.2 L774.3,140.2 M780.2,131.1 L777,134.1 L780.2,137.2 L777,140.2 M774.3,149.3 L777.5,146.3 L774.3,143.2 L777.5,140.2 M777,149.3 L780.2,146.3 L777,143.2 L780.2,140.2 M784.8,131.9 L781.5,134.9 L784.8,137.9 L781.5,141 M787.5,131.9 L784.2,134.9 L787.5,137.9 L784.2,141 M781.5,150.1 L784.8,147 L781.5,144 L784.8,141 M784.2,150.1 L787.5,147 L784.2,144 L787.5,141 M792,132.6 L788.8,135.6 L792,138.7 L788.8,141.7 M794.7,132.6 L791.5,135.6 L794.7,138.7 L791.5,141.7 M788.8,150.8 L792,147.8 L788.8,144.7 L792,141.7 M791.5,150.8 L794.7,147.8 L791.5,144.7 L794.7,141.7 M799.2,133.3 L796,136.3 L799.2,139.4 L796,142.4 M802,133.3 L798.8,136.3 L802,139.4 L798.8,142.4 M796,151.5 L799.2,148.5 L796,145.4 L799.2,142.4 M798.8,151.5 L802,148.5 L798.8,145.4 L802,142.4 M806.5,134 L803.3,137 L806.5,140 L803.3,143.1 M809.2,134 L806,137 L809.2,140 L806,143.1 M803.3,152.2 L806.5,149.1 L803.3,146.1 L806.5,143.1 M806,152.2 L809.2,149.1 L806,146.1 L809.2,143.1 M813.8,134.6 L810.5,137.6 L813.8,140.6 L810.5,143.7 M816.5,134.6 L813.2,137.6 L816.5,140.6 L813.2,143.7 M810.5,152.8 L813.8,149.7 L810.5,146.7 L813.8,143.7 M813.2,152.8 L816.5,149.7 L813.2,146.7 L816.5,143.7 M821,135.1 L817.8,138.2 L821,141.2 L817.8,144.2 M823.7,135.1 L820.5,138.2 L823.7,141.2 L820.5,144.2 M817.8,153.3 L821,150.3 L817.8,147.3 L821,144.2 M820.5,153.3 L823.7,150.3 L820.5,147.3 L823.7,144.2 M828.2,135.6 L825,138.7 L828.2,141.7 L825,144.7 M831,135.6 L827.8,138.7 L831,141.7 L827.8,144.7 M825,153.8 L828.2,150.8 L825,147.8 L828.2,144.7 M827.8,153.8 L831,150.8 L827.8,147.8 L831,144.7" fill="none" stroke="#4a3735" stroke-width="1.5" stroke-linejoin="round"/>
<ellipse cx="1.5" cy="131.9" rx="3.4" ry="2.75" transform="rotate(-4.1 1.5 131.9)"/>
<ellipse cx="1.5" cy="155.3" rx="3.4" ry="2.75" transform="rotate(-4.1 1.5 155.3)"/>
<ellipse cx="8.8" cy="131.4" rx="3.4" ry="2.75" transform="rotate(-4.6 8.8 131.4)"/>
<ellipse cx="8.8" cy="154.8" rx="3.4" ry="2.75" transform="rotate(-4.6 8.8 154.8)"/>
<ellipse cx="16" cy="130.8" rx="3.4" ry="2.75" transform="rotate(-4.9 16 130.8)"/>
<ellipse cx="16" cy="154.2" rx="3.4" ry="2.75" transform="rotate(-4.9 16 154.2)"/>
<ellipse cx="23.2" cy="130.1" rx="3.4" ry="2.75" transform="rotate(-5.2 23.2 130.1)"/>
<ellipse cx="23.2" cy="153.5" rx="3.4" ry="2.75" transform="rotate(-5.2 23.2 153.5)"/>
<ellipse cx="30.5" cy="129.5" rx="3.4" ry="2.75" transform="rotate(-5.5 30.5 129.5)"/>
<ellipse cx="30.5" cy="152.9" rx="3.4" ry="2.75" transform="rotate(-5.5 30.5 152.9)"/>
<ellipse cx="37.8" cy="128.7" rx="3.4" ry="2.75" transform="rotate(-5.7 37.8 128.7)"/>
<ellipse cx="37.8" cy="152.1" rx="3.4" ry="2.75" transform="rotate(-5.7 37.8 152.1)"/>
<ellipse cx="45" cy="128" rx="3.4" ry="2.75" transform="rotate(-5.8 45 128)"/>
<ellipse cx="45" cy="151.4" rx="3.4" ry="2.75" transform="rotate(-5.8 45 151.4)"/>
<ellipse cx="52.2" cy="127.3" rx="3.4" ry="2.75" transform="rotate(-5.9 52.2 127.3)"/>
<ellipse cx="52.2" cy="150.7" rx="3.4" ry="2.75" transform="rotate(-5.9 52.2 150.7)"/>
<ellipse cx="59.5" cy="126.5" rx="3.4" ry="2.75" transform="rotate(-6 59.5 126.5)"/>
<ellipse cx="59.5" cy="149.9" rx="3.4" ry="2.75" transform="rotate(-6 59.5 149.9)"/>
<ellipse cx="66.8" cy="125.8" rx="3.4" ry="2.75" transform="rotate(-6 66.8 125.8)"/>
<ellipse cx="66.8" cy="149.2" rx="3.4" ry="2.75" transform="rotate(-6 66.8 149.2)"/>
<ellipse cx="74" cy="125" rx="3.4" ry="2.75" transform="rotate(-6 74 125)"/>
<ellipse cx="74" cy="148.4" rx="3.4" ry="2.75" transform="rotate(-6 74 148.4)"/>
<ellipse cx="81.2" cy="124.2" rx="3.4" ry="2.75" transform="rotate(-6 81.2 124.2)"/>
<ellipse cx="81.2" cy="147.6" rx="3.4" ry="2.75" transform="rotate(-6 81.2 147.6)"/>
<ellipse cx="88.5" cy="123.5" rx="3.4" ry="2.75" transform="rotate(-5.9 88.5 123.5)"/>
<ellipse cx="88.5" cy="146.9" rx="3.4" ry="2.75" transform="rotate(-5.9 88.5 146.9)"/>
<ellipse cx="95.8" cy="122.7" rx="3.4" ry="2.75" transform="rotate(-5.8 95.8 122.7)"/>
<ellipse cx="95.8" cy="146.1" rx="3.4" ry="2.75" transform="rotate(-5.8 95.8 146.1)"/>
<ellipse cx="103" cy="122" rx="3.4" ry="2.75" transform="rotate(-5.7 103 122)"/>
<ellipse cx="103" cy="145.4" rx="3.4" ry="2.75" transform="rotate(-5.7 103 145.4)"/>
<ellipse cx="110.2" cy="121.3" rx="3.4" ry="2.75" transform="rotate(-5.6 110.2 121.3)"/>
<ellipse cx="110.2" cy="144.7" rx="3.4" ry="2.75" transform="rotate(-5.6 110.2 144.7)"/>
<ellipse cx="117.5" cy="120.6" rx="3.4" ry="2.75" transform="rotate(-5.4 117.5 120.6)"/>
<ellipse cx="117.5" cy="144" rx="3.4" ry="2.75" transform="rotate(-5.4 117.5 144)"/>
<ellipse cx="124.8" cy="119.9" rx="3.4" ry="2.75" transform="rotate(-5.3 124.8 119.9)"/>
<ellipse cx="124.8" cy="143.3" rx="3.4" ry="2.75" transform="rotate(-5.3 124.8 143.3)"/>
<ellipse cx="132" cy="119.3" rx="3.4" ry="2.75" transform="rotate(-5.1 132 119.3)"/>
<ellipse cx="132" cy="142.7" rx="3.4" ry="2.75" transform="rotate(-5.1 132 142.7)"/>
<ellipse cx="139.2" cy="118.6" rx="3.4" ry="2.75" transform="rotate(-4.9 139.2 118.6)"/>
<ellipse cx="139.2" cy="142" rx="3.4" ry="2.75" transform="rotate(-4.9 139.2 142)"/>
<ellipse cx="146.5" cy="118" rx="3.4" ry="2.75" transform="rotate(-4.7 146.5 118)"/>
<ellipse cx="146.5" cy="141.4" rx="3.4" ry="2.75" transform="rotate(-4.7 146.5 141.4)"/>
<ellipse cx="153.8" cy="117.4" rx="3.4" ry="2.75" transform="rotate(-4.5 153.8 117.4)"/>
<ellipse cx="153.8" cy="140.8" rx="3.4" ry="2.75" transform="rotate(-4.5 153.8 140.8)"/>
<ellipse cx="161" cy="116.9" rx="3.4" ry="2.75" transform="rotate(-4.3 161 116.9)"/>
<ellipse cx="161" cy="140.3" rx="3.4" ry="2.75" transform="rotate(-4.3 161 140.3)"/>
<ellipse cx="168.2" cy="116.3" rx="3.4" ry="2.75" transform="rotate(-4.1 168.2 116.3)"/>
<ellipse cx="168.2" cy="139.7" rx="3.4" ry="2.75" transform="rotate(-4.1 168.2 139.7)"/>
<ellipse cx="175.5" cy="115.8" rx="3.4" ry="2.75" transform="rotate(-3.9 175.5 115.8)"/>
<ellipse cx="175.5" cy="139.2" rx="3.4" ry="2.75" transform="rotate(-3.9 175.5 139.2)"/>
<ellipse cx="182.8" cy="115.3" rx="3.4" ry="2.75" transform="rotate(-3.7 182.8 115.3)"/>
<ellipse cx="182.8" cy="138.7" rx="3.4" ry="2.75" transform="rotate(-3.7 182.8 138.7)"/>
<ellipse cx="190" cy="114.8" rx="3.4" ry="2.75" transform="rotate(-3.5 190 114.8)"/>
<ellipse cx="190" cy="138.2" rx="3.4" ry="2.75" transform="rotate(-3.5 190 138.2)"/>
<ellipse cx="197.2" cy="114.4" rx="3.4" ry="2.75" transform="rotate(-3.4 197.2 114.4)"/>
<ellipse cx="197.2" cy="137.8" rx="3.4" ry="2.75" transform="rotate(-3.4 197.2 137.8)"/>
<ellipse cx="204.5" cy="114" rx="3.4" ry="2.75" transform="rotate(-3.2 204.5 114)"/>
<ellipse cx="204.5" cy="137.4" rx="3.4" ry="2.75" transform="rotate(-3.2 204.5 137.4)"/>
<ellipse cx="211.8" cy="113.6" rx="3.4" ry="2.75" transform="rotate(-3 211.8 113.6)"/>
<ellipse cx="211.8" cy="137" rx="3.4" ry="2.75" transform="rotate(-3 211.8 137)"/>
<ellipse cx="219" cy="113.2" rx="3.4" ry="2.75" transform="rotate(-2.8 219 113.2)"/>
<ellipse cx="219" cy="136.6" rx="3.4" ry="2.75" transform="rotate(-2.8 219 136.6)"/>
<ellipse cx="226.2" cy="112.9" rx="3.4" ry="2.75" transform="rotate(-2.6 226.2 112.9)"/>
<ellipse cx="226.2" cy="136.3" rx="3.4" ry="2.75" transform="rotate(-2.6 226.2 136.3)"/>
<ellipse cx="233.5" cy="112.6" rx="3.4" ry="2.75" transform="rotate(-2.4 233.5 112.6)"/>
<ellipse cx="233.5" cy="136" rx="3.4" ry="2.75" transform="rotate(-2.4 233.5 136)"/>
<ellipse cx="240.8" cy="112.3" rx="3.4" ry="2.75" transform="rotate(-2.3 240.8 112.3)"/>
<ellipse cx="240.8" cy="135.7" rx="3.4" ry="2.75" transform="rotate(-2.3 240.8 135.7)"/>
<ellipse cx="248" cy="112" rx="3.4" ry="2.75" transform="rotate(-2.1 248 112)"/>
<ellipse cx="248" cy="135.4" rx="3.4" ry="2.75" transform="rotate(-2.1 248 135.4)"/>
<ellipse cx="255.2" cy="111.8" rx="3.4" ry="2.75" transform="rotate(-1.9 255.2 111.8)"/>
<ellipse cx="255.2" cy="135.2" rx="3.4" ry="2.75" transform="rotate(-1.9 255.2 135.2)"/>
<ellipse cx="262.5" cy="111.5" rx="3.4" ry="2.75" transform="rotate(-1.8 262.5 111.5)"/>
<ellipse cx="262.5" cy="134.9" rx="3.4" ry="2.75" transform="rotate(-1.8 262.5 134.9)"/>
<ellipse cx="269.8" cy="111.3" rx="3.4" ry="2.75" transform="rotate(-1.7 269.8 111.3)"/>
<ellipse cx="269.8" cy="134.7" rx="3.4" ry="2.75" transform="rotate(-1.7 269.8 134.7)"/>
<ellipse cx="277" cy="111.1" rx="3.4" ry="2.75" transform="rotate(-1.5 277 111.1)"/>
<ellipse cx="277" cy="134.5" rx="3.4" ry="2.75" transform="rotate(-1.5 277 134.5)"/>
<ellipse cx="284.2" cy="110.9" rx="3.4" ry="2.75" transform="rotate(-1.4 284.2 110.9)"/>
<ellipse cx="284.2" cy="134.3" rx="3.4" ry="2.75" transform="rotate(-1.4 284.2 134.3)"/>
<ellipse cx="291.5" cy="110.7" rx="3.4" ry="2.75" transform="rotate(-1.3 291.5 110.7)"/>
<ellipse cx="291.5" cy="134.1" rx="3.4" ry="2.75" transform="rotate(-1.3 291.5 134.1)"/>
<ellipse cx="298.8" cy="110.6" rx="3.4" ry="2.75" transform="rotate(-1.2 298.8 110.6)"/>
<ellipse cx="298.8" cy="134" rx="3.4" ry="2.75" transform="rotate(-1.2 298.8 134)"/>
<ellipse cx="306" cy="110.5" rx="3.4" ry="2.75" transform="rotate(-1.1 306 110.5)"/>
<ellipse cx="306" cy="133.9" rx="3.4" ry="2.75" transform="rotate(-1.1 306 133.9)"/>
<ellipse cx="313.2" cy="110.3" rx="3.4" ry="2.75" transform="rotate(-1 313.2 110.3)"/>
<ellipse cx="313.2" cy="133.7" rx="3.4" ry="2.75" transform="rotate(-1 313.2 133.7)"/>
<ellipse cx="320.5" cy="110.2" rx="3.4" ry="2.75" transform="rotate(-0.9 320.5 110.2)"/>
<ellipse cx="320.5" cy="133.6" rx="3.4" ry="2.75" transform="rotate(-0.9 320.5 133.6)"/>
<ellipse cx="327.8" cy="110.1" rx="3.4" ry="2.75" transform="rotate(-0.8 327.8 110.1)"/>
<ellipse cx="327.8" cy="133.5" rx="3.4" ry="2.75" transform="rotate(-0.8 327.8 133.5)"/>
<ellipse cx="335" cy="110" rx="3.4" ry="2.75" transform="rotate(-0.7 335 110)"/>
<ellipse cx="335" cy="133.4" rx="3.4" ry="2.75" transform="rotate(-0.7 335 133.4)"/>
<ellipse cx="342.2" cy="109.9" rx="3.4" ry="2.75" transform="rotate(-0.6 342.2 109.9)"/>
<ellipse cx="342.2" cy="133.3" rx="3.4" ry="2.75" transform="rotate(-0.6 342.2 133.3)"/>
<ellipse cx="349.5" cy="109.8" rx="3.4" ry="2.75" transform="rotate(-0.6 349.5 109.8)"/>
<ellipse cx="349.5" cy="133.2" rx="3.4" ry="2.75" transform="rotate(-0.6 349.5 133.2)"/>
<ellipse cx="356.8" cy="109.8" rx="3.4" ry="2.75" transform="rotate(-0.5 356.8 109.8)"/>
<ellipse cx="356.8" cy="133.2" rx="3.4" ry="2.75" transform="rotate(-0.5 356.8 133.2)"/>
<ellipse cx="364" cy="109.7" rx="3.4" ry="2.75" transform="rotate(-0.5 364 109.7)"/>
<ellipse cx="364" cy="133.1" rx="3.4" ry="2.75" transform="rotate(-0.5 364 133.1)"/>
<ellipse cx="371.2" cy="109.7" rx="3.4" ry="2.75" transform="rotate(-0.4 371.2 109.7)"/>
<ellipse cx="371.2" cy="133.1" rx="3.4" ry="2.75" transform="rotate(-0.4 371.2 133.1)"/>
<ellipse cx="378.5" cy="109.6" rx="3.4" ry="2.75" transform="rotate(-0.3 378.5 109.6)"/>
<ellipse cx="378.5" cy="133" rx="3.4" ry="2.75" transform="rotate(-0.3 378.5 133)"/>
<ellipse cx="385.8" cy="109.6" rx="3.4" ry="2.75" transform="rotate(-0.3 385.8 109.6)"/>
<ellipse cx="385.8" cy="133" rx="3.4" ry="2.75" transform="rotate(-0.3 385.8 133)"/>
<ellipse cx="393" cy="109.5" rx="3.4" ry="2.75" transform="rotate(-0.2 393 109.5)"/>
<ellipse cx="393" cy="132.9" rx="3.4" ry="2.75" transform="rotate(-0.2 393 132.9)"/>
<ellipse cx="400.2" cy="109.5" rx="3.4" ry="2.75" transform="rotate(-0.2 400.2 109.5)"/>
<ellipse cx="400.2" cy="132.9" rx="3.4" ry="2.75" transform="rotate(-0.2 400.2 132.9)"/>
<ellipse cx="407.5" cy="109.5" rx="3.4" ry="2.75" transform="rotate(-0.1 407.5 109.5)"/>
<ellipse cx="407.5" cy="132.9" rx="3.4" ry="2.75" transform="rotate(-0.1 407.5 132.9)"/>
<ellipse cx="414.8" cy="109.5" rx="3.4" ry="2.75" transform="rotate(-0.1 414.8 109.5)"/>
<ellipse cx="414.8" cy="132.9" rx="3.4" ry="2.75" transform="rotate(-0.1 414.8 132.9)"/>
<ellipse cx="422" cy="109.5" rx="3.4" ry="2.75" transform="rotate(-0 422 109.5)"/>
<ellipse cx="422" cy="132.9" rx="3.4" ry="2.75" transform="rotate(-0 422 132.9)"/>
<ellipse cx="429.2" cy="109.5" rx="3.4" ry="2.75" transform="rotate(0 429.2 109.5)"/>
<ellipse cx="429.2" cy="132.9" rx="3.4" ry="2.75" transform="rotate(0 429.2 132.9)"/>
<ellipse cx="436.5" cy="109.5" rx="3.4" ry="2.75" transform="rotate(0.1 436.5 109.5)"/>
<ellipse cx="436.5" cy="132.9" rx="3.4" ry="2.75" transform="rotate(0.1 436.5 132.9)"/>
<ellipse cx="443.8" cy="109.5" rx="3.4" ry="2.75" transform="rotate(0.1 443.8 109.5)"/>
<ellipse cx="443.8" cy="132.9" rx="3.4" ry="2.75" transform="rotate(0.1 443.8 132.9)"/>
<ellipse cx="451" cy="109.5" rx="3.4" ry="2.75" transform="rotate(0.2 451 109.5)"/>
<ellipse cx="451" cy="132.9" rx="3.4" ry="2.75" transform="rotate(0.2 451 132.9)"/>
<ellipse cx="458.2" cy="109.5" rx="3.4" ry="2.75" transform="rotate(0.2 458.2 109.5)"/>
<ellipse cx="458.2" cy="132.9" rx="3.4" ry="2.75" transform="rotate(0.2 458.2 132.9)"/>
<ellipse cx="465.5" cy="109.6" rx="3.4" ry="2.75" transform="rotate(0.3 465.5 109.6)"/>
<ellipse cx="465.5" cy="133" rx="3.4" ry="2.75" transform="rotate(0.3 465.5 133)"/>
<ellipse cx="472.8" cy="109.6" rx="3.4" ry="2.75" transform="rotate(0.4 472.8 109.6)"/>
<ellipse cx="472.8" cy="133" rx="3.4" ry="2.75" transform="rotate(0.4 472.8 133)"/>
<ellipse cx="480" cy="109.6" rx="3.4" ry="2.75" transform="rotate(0.5 480 109.6)"/>
<ellipse cx="480" cy="133" rx="3.4" ry="2.75" transform="rotate(0.5 480 133)"/>
<ellipse cx="487.2" cy="109.7" rx="3.4" ry="2.75" transform="rotate(0.5 487.2 109.7)"/>
<ellipse cx="487.2" cy="133.1" rx="3.4" ry="2.75" transform="rotate(0.5 487.2 133.1)"/>
<ellipse cx="494.5" cy="109.8" rx="3.4" ry="2.75" transform="rotate(0.6 494.5 109.8)"/>
<ellipse cx="494.5" cy="133.2" rx="3.4" ry="2.75" transform="rotate(0.6 494.5 133.2)"/>
<ellipse cx="501.8" cy="109.9" rx="3.4" ry="2.75" transform="rotate(0.7 501.8 109.9)"/>
<ellipse cx="501.8" cy="133.3" rx="3.4" ry="2.75" transform="rotate(0.7 501.8 133.3)"/>
<ellipse cx="509" cy="110" rx="3.4" ry="2.75" transform="rotate(0.8 509 110)"/>
<ellipse cx="509" cy="133.4" rx="3.4" ry="2.75" transform="rotate(0.8 509 133.4)"/>
<ellipse cx="516.2" cy="110.1" rx="3.4" ry="2.75" transform="rotate(1 516.2 110.1)"/>
<ellipse cx="516.2" cy="133.5" rx="3.4" ry="2.75" transform="rotate(1 516.2 133.5)"/>
<ellipse cx="523.5" cy="110.2" rx="3.4" ry="2.75" transform="rotate(1.1 523.5 110.2)"/>
<ellipse cx="523.5" cy="133.6" rx="3.4" ry="2.75" transform="rotate(1.1 523.5 133.6)"/>
<ellipse cx="530.8" cy="110.4" rx="3.4" ry="2.75" transform="rotate(1.2 530.8 110.4)"/>
<ellipse cx="530.8" cy="133.8" rx="3.4" ry="2.75" transform="rotate(1.2 530.8 133.8)"/>
<ellipse cx="538" cy="110.5" rx="3.4" ry="2.75" transform="rotate(1.3 538 110.5)"/>
<ellipse cx="538" cy="133.9" rx="3.4" ry="2.75" transform="rotate(1.3 538 133.9)"/>
<ellipse cx="545.2" cy="110.7" rx="3.4" ry="2.75" transform="rotate(1.5 545.2 110.7)"/>
<ellipse cx="545.2" cy="134.1" rx="3.4" ry="2.75" transform="rotate(1.5 545.2 134.1)"/>
<ellipse cx="552.5" cy="110.9" rx="3.4" ry="2.75" transform="rotate(1.6 552.5 110.9)"/>
<ellipse cx="552.5" cy="134.3" rx="3.4" ry="2.75" transform="rotate(1.6 552.5 134.3)"/>
<ellipse cx="559.8" cy="111.1" rx="3.4" ry="2.75" transform="rotate(1.8 559.8 111.1)"/>
<ellipse cx="559.8" cy="134.5" rx="3.4" ry="2.75" transform="rotate(1.8 559.8 134.5)"/>
<ellipse cx="567" cy="111.4" rx="3.4" ry="2.75" transform="rotate(2 567 111.4)"/>
<ellipse cx="567" cy="134.8" rx="3.4" ry="2.75" transform="rotate(2 567 134.8)"/>
<ellipse cx="574.2" cy="111.6" rx="3.4" ry="2.75" transform="rotate(2.1 574.2 111.6)"/>
<ellipse cx="574.2" cy="135" rx="3.4" ry="2.75" transform="rotate(2.1 574.2 135)"/>
<ellipse cx="581.5" cy="111.9" rx="3.4" ry="2.75" transform="rotate(2.3 581.5 111.9)"/>
<ellipse cx="581.5" cy="135.3" rx="3.4" ry="2.75" transform="rotate(2.3 581.5 135.3)"/>
<ellipse cx="588.8" cy="112.2" rx="3.4" ry="2.75" transform="rotate(2.5 588.8 112.2)"/>
<ellipse cx="588.8" cy="135.6" rx="3.4" ry="2.75" transform="rotate(2.5 588.8 135.6)"/>
<ellipse cx="596" cy="112.5" rx="3.4" ry="2.75" transform="rotate(2.7 596 112.5)"/>
<ellipse cx="596" cy="135.9" rx="3.4" ry="2.75" transform="rotate(2.7 596 135.9)"/>
<ellipse cx="603.2" cy="112.9" rx="3.4" ry="2.75" transform="rotate(2.9 603.2 112.9)"/>
<ellipse cx="603.2" cy="136.3" rx="3.4" ry="2.75" transform="rotate(2.9 603.2 136.3)"/>
<ellipse cx="610.5" cy="113.3" rx="3.4" ry="2.75" transform="rotate(3.1 610.5 113.3)"/>
<ellipse cx="610.5" cy="136.7" rx="3.4" ry="2.75" transform="rotate(3.1 610.5 136.7)"/>
<ellipse cx="617.8" cy="113.7" rx="3.4" ry="2.75" transform="rotate(3.3 617.8 113.7)"/>
<ellipse cx="617.8" cy="137.1" rx="3.4" ry="2.75" transform="rotate(3.3 617.8 137.1)"/>
<ellipse cx="625" cy="114.1" rx="3.4" ry="2.75" transform="rotate(3.5 625 114.1)"/>
<ellipse cx="625" cy="137.5" rx="3.4" ry="2.75" transform="rotate(3.5 625 137.5)"/>
<ellipse cx="632.2" cy="114.6" rx="3.4" ry="2.75" transform="rotate(3.7 632.2 114.6)"/>
<ellipse cx="632.2" cy="138" rx="3.4" ry="2.75" transform="rotate(3.7 632.2 138)"/>
<ellipse cx="639.5" cy="115.1" rx="3.4" ry="2.75" transform="rotate(4 639.5 115.1)"/>
<ellipse cx="639.5" cy="138.5" rx="3.4" ry="2.75" transform="rotate(4 639.5 138.5)"/>
<ellipse cx="646.8" cy="115.6" rx="3.4" ry="2.75" transform="rotate(4.2 646.8 115.6)"/>
<ellipse cx="646.8" cy="139" rx="3.4" ry="2.75" transform="rotate(4.2 646.8 139)"/>
<ellipse cx="654" cy="116.1" rx="3.4" ry="2.75" transform="rotate(4.4 654 116.1)"/>
<ellipse cx="654" cy="139.5" rx="3.4" ry="2.75" transform="rotate(4.4 654 139.5)"/>
<ellipse cx="661.2" cy="116.7" rx="3.4" ry="2.75" transform="rotate(4.6 661.2 116.7)"/>
<ellipse cx="661.2" cy="140.1" rx="3.4" ry="2.75" transform="rotate(4.6 661.2 140.1)"/>
<ellipse cx="668.5" cy="117.3" rx="3.4" ry="2.75" transform="rotate(4.8 668.5 117.3)"/>
<ellipse cx="668.5" cy="140.7" rx="3.4" ry="2.75" transform="rotate(4.8 668.5 140.7)"/>
<ellipse cx="675.8" cy="117.9" rx="3.4" ry="2.75" transform="rotate(5 675.8 117.9)"/>
<ellipse cx="675.8" cy="141.3" rx="3.4" ry="2.75" transform="rotate(5 675.8 141.3)"/>
<ellipse cx="683" cy="118.6" rx="3.4" ry="2.75" transform="rotate(5.2 683 118.6)"/>
<ellipse cx="683" cy="142" rx="3.4" ry="2.75" transform="rotate(5.2 683 142)"/>
<ellipse cx="690.2" cy="119.2" rx="3.4" ry="2.75" transform="rotate(5.4 690.2 119.2)"/>
<ellipse cx="690.2" cy="142.6" rx="3.4" ry="2.75" transform="rotate(5.4 690.2 142.6)"/>
<ellipse cx="697.5" cy="119.9" rx="3.4" ry="2.75" transform="rotate(5.6 697.5 119.9)"/>
<ellipse cx="697.5" cy="143.3" rx="3.4" ry="2.75" transform="rotate(5.6 697.5 143.3)"/>
<ellipse cx="704.8" cy="120.7" rx="3.4" ry="2.75" transform="rotate(5.8 704.8 120.7)"/>
<ellipse cx="704.8" cy="144.1" rx="3.4" ry="2.75" transform="rotate(5.8 704.8 144.1)"/>
<ellipse cx="712" cy="121.4" rx="3.4" ry="2.75" transform="rotate(5.9 712 121.4)"/>
<ellipse cx="712" cy="144.8" rx="3.4" ry="2.75" transform="rotate(5.9 712 144.8)"/>
<ellipse cx="719.2" cy="122.2" rx="3.4" ry="2.75" transform="rotate(6 719.2 122.2)"/>
<ellipse cx="719.2" cy="145.6" rx="3.4" ry="2.75" transform="rotate(6 719.2 145.6)"/>
<ellipse cx="726.5" cy="122.9" rx="3.4" ry="2.75" transform="rotate(6.1 726.5 122.9)"/>
<ellipse cx="726.5" cy="146.3" rx="3.4" ry="2.75" transform="rotate(6.1 726.5 146.3)"/>
<ellipse cx="733.8" cy="123.7" rx="3.4" ry="2.75" transform="rotate(6.2 733.8 123.7)"/>
<ellipse cx="733.8" cy="147.1" rx="3.4" ry="2.75" transform="rotate(6.2 733.8 147.1)"/>
<ellipse cx="741" cy="124.5" rx="3.4" ry="2.75" transform="rotate(6.3 741 124.5)"/>
<ellipse cx="741" cy="147.9" rx="3.4" ry="2.75" transform="rotate(6.3 741 147.9)"/>
<ellipse cx="748.2" cy="125.3" rx="3.4" ry="2.75" transform="rotate(6.3 748.2 125.3)"/>
<ellipse cx="748.2" cy="148.7" rx="3.4" ry="2.75" transform="rotate(6.3 748.2 148.7)"/>
<ellipse cx="755.5" cy="126.1" rx="3.4" ry="2.75" transform="rotate(6.3 755.5 126.1)"/>
<ellipse cx="755.5" cy="149.5" rx="3.4" ry="2.75" transform="rotate(6.3 755.5 149.5)"/>
<ellipse cx="762.8" cy="126.9" rx="3.4" ry="2.75" transform="rotate(6.3 762.8 126.9)"/>
<ellipse cx="762.8" cy="150.3" rx="3.4" ry="2.75" transform="rotate(6.3 762.8 150.3)"/>
<ellipse cx="770" cy="127.7" rx="3.4" ry="2.75" transform="rotate(6.2 770 127.7)"/>
<ellipse cx="770" cy="151.1" rx="3.4" ry="2.75" transform="rotate(6.2 770 151.1)"/>
<ellipse cx="777.2" cy="128.5" rx="3.4" ry="2.75" transform="rotate(6.1 777.2 128.5)"/>
<ellipse cx="777.2" cy="151.9" rx="3.4" ry="2.75" transform="rotate(6.1 777.2 151.9)"/>
<ellipse cx="784.5" cy="129.3" rx="3.4" ry="2.75" transform="rotate(5.9 784.5 129.3)"/>
<ellipse cx="784.5" cy="152.7" rx="3.4" ry="2.75" transform="rotate(5.9 784.5 152.7)"/>
<ellipse cx="791.8" cy="130" rx="3.4" ry="2.75" transform="rotate(5.7 791.8 130)"/>
<ellipse cx="791.8" cy="153.4" rx="3.4" ry="2.75" transform="rotate(5.7 791.8 153.4)"/>
<ellipse cx="799" cy="130.7" rx="3.4" ry="2.75" transform="rotate(5.4 799 130.7)"/>
<ellipse cx="799" cy="154.1" rx="3.4" ry="2.75" transform="rotate(5.4 799 154.1)"/>
<ellipse cx="806.2" cy="131.4" rx="3.4" ry="2.75" transform="rotate(5 806.2 131.4)"/>
<ellipse cx="806.2" cy="154.8" rx="3.4" ry="2.75" transform="rotate(5 806.2 154.8)"/>
<ellipse cx="813.5" cy="132" rx="3.4" ry="2.75" transform="rotate(4.6 813.5 132)"/>
<ellipse cx="813.5" cy="155.4" rx="3.4" ry="2.75" transform="rotate(4.6 813.5 155.4)"/>
<ellipse cx="820.8" cy="132.5" rx="3.4" ry="2.75" transform="rotate(4.2 820.8 132.5)"/>
<ellipse cx="820.8" cy="155.9" rx="3.4" ry="2.75" transform="rotate(4.2 820.8 155.9)"/>
<ellipse cx="828" cy="133" rx="3.4" ry="2.75" transform="rotate(3.6 828 133)"/>
<ellipse cx="828" cy="156.4" rx="3.4" ry="2.75" transform="rotate(3.6 828 156.4)"/>
</g>
<style>#mem ellipse{fill:#fbfbca;stroke:#2c2d0c;stroke-width:1.2}</style>
<path d="M132.6,62 L135.65,191" stroke="#f6eff3" stroke-width="2" fill="none"/>
<path d="M113.8,25.1 C109,29 107,34 107.8,39 C109,48 113,54 118,59 C121,62 122.3,63.5 122.3,67 L125.6,189 C125.8,195.5 133.8,195.5 133.7,189 L130.9,62.5 C130.9,61 129.6,60 126.8,58 C121.5,54 118.5,48 116.5,41 C115,35 115,30 113.8,25.1 Z" fill="#ac4f9d" stroke="#40203a" stroke-width="1.7" stroke-linejoin="round"/>
<path d="M146.6,24.1 C151.5,27.5 153.8,32 153.6,37 C153.2,46 150,53 145.5,58.5 C143,61.5 142,63.5 142,67 L145.5,189 C145.7,195.5 137.7,195.5 137.6,189 L134.3,62.5 C134.3,61 135.6,60 138,58 C142.8,54 146,48 147.3,41 C148.3,35 147.6,30 146.6,24.1 Z" fill="#ac4f9d" stroke="#40203a" stroke-width="1.7" stroke-linejoin="round"/>
<path d="M390.9,62.4 L400.2,86 L400.4,170" fill="none" stroke="#0e7646" stroke-width="8.2" stroke-linecap="round" stroke-linejoin="miter"/>
<path d="M419.5,61.7 L410,86 L410,170" fill="none" stroke="#0e7646" stroke-width="8.2" stroke-linecap="round" stroke-linejoin="miter"/>
<path d="M405.2,83 L405.2,173" stroke="#d9e6cf" stroke-width="1.4" fill="none"/>
<path d="M364.2,35.9 L370.5,42.2 L364.2,48.5 L357.9,42.2 Z" fill="url(#dia)" stroke="#37420f" stroke-width="1.6" stroke-linejoin="miter"/>
<path d="M388,29.9 L394.3,36.2 L388,42.5 L381.7,36.2 Z" fill="url(#dia)" stroke="#37420f" stroke-width="1.6" stroke-linejoin="miter"/>
<path d="M370.8,53.4 L377.1,59.7 L370.8,66 L364.5,59.7 Z" fill="url(#dia)" stroke="#37420f" stroke-width="1.6" stroke-linejoin="miter"/>
<path d="M405,50.5 L411.3,56.8 L405,63.1 L398.7,56.8 Z" fill="url(#dia)" stroke="#37420f" stroke-width="1.6" stroke-linejoin="miter"/>
<ellipse cx="705.5" cy="126.7" rx="12.3" ry="53.2" transform="rotate(5.5 705.5 126.7)" fill="#bd272d" stroke="#5b1a1c" stroke-width="1.4"/>
<text x="148.5" y="97.4" font-size="12.5" fill="#3b3a39" text-anchor="start" textLength="30" lengthAdjust="spacingAndGlyphs" >EGFR</text>
<text x="352.5" y="27.5" font-size="12.5" fill="#3b3a39" text-anchor="start" textLength="29" lengthAdjust="spacingAndGlyphs" >IFN-γ</text>
<text x="425" y="90" font-size="12.5" fill="#3b3a39" text-anchor="start" textLength="36.5" lengthAdjust="spacingAndGlyphs" >IFN-γR</text>
<text x="727" y="108.5" font-size="12.5" fill="#3b3a39" text-anchor="start" textLength="33" lengthAdjust="spacingAndGlyphs" >PD-L1</text>
<path d="M114.9,180.8 L114.4,180.8 L113.7,180.8 L113,180.8 L112.2,180.7 L111.3,180.7 L110.3,180.7 L109.3,180.6 L108.2,180.6 L107.1,180.6 L106.1,180.6 L105,180.6 L103.9,180.6 L102.8,180.7 L101.8,180.7 L100.9,180.8 L100,180.9 L99.2,181 L98.3,181.2 L97.5,181.3 L96.6,181.5 L95.8,181.7 L95,181.9 L94.2,182.1 L93.4,182.3 L92.7,182.5 L91.9,182.8 L91.2,183 L90.4,183.3 L89.7,183.6 L89,183.9 L88.4,184.3 L87.7,184.6 L87.1,185 L86.4,185.4 L85.8,185.8 L85.3,186.2 L84.7,186.7 L84.1,187.1 L83.6,187.6 L83.1,188.1 L82.5,188.6 L82.1,189.1 L81.6,189.6 L81.1,190.2 L80.7,190.7 L80.3,191.2 L79.9,191.7 L79.5,192.2 L79.1,192.7 L78.8,193.2 L78.5,193.7 L78.2,194.3 L78,194.8 L77.7,195.3 L77.5,195.8 L77.3,196.4 L77.1,196.9 L76.9,197.4 L76.7,198 L76.6,198.5 L76.4,199 L76.3,199.5 L76.1,199.9 L76,200.4 L75.9,200.9 L75.8,201.2" fill="none" stroke="#2e2726" stroke-width="1.55" stroke-linecap="round"/>
<path d="M75.4,206.7 L71.4,197.4 L76.1,200.7 L81.4,198.5 Z" fill="#2e2726"/>
<path d="M153.6,184 L153.9,184.5 L154.3,185 L154.7,185.6 L155.2,186.3 L155.7,187.1 L156.3,187.9 L156.9,188.8 L157.5,189.7 L158.1,190.6 L158.8,191.6 L159.5,192.5 L160.2,193.5 L161,194.5 L161.7,195.4 L162.5,196.3 L163.3,197.2 L164.1,198.1 L164.9,199 L165.8,199.9 L166.7,200.8 L167.6,201.8 L168.5,202.7 L169.5,203.7 L170.4,204.6 L171.4,205.5 L172.4,206.5 L173.5,207.4 L174.5,208.3 L175.6,209.2 L176.6,210.1 L177.7,210.9 L178.8,211.7 L179.9,212.5 L181,213.3 L182.2,214 L183.4,214.8 L184.6,215.5 L185.8,216.2 L187.1,216.9 L188.3,217.6 L189.6,218.3 L190.8,218.9 L192.1,219.5 L193.3,220.2 L194.6,220.7 L195.8,221.3 L197.1,221.9 L198.3,222.4 L199.5,222.9 L200.7,223.4 L201.9,223.9 L203.2,224.3 L204.4,224.7 L205.6,225.1 L206.8,225.5 L208,225.9 L209.2,226.2 L210.4,226.6 L211.6,226.9 L212.9,227.2 L214.1,227.5 L215.3,227.8 L216.5,228 L217.7,228.3 L218.9,228.5 L220.1,228.8 L221.3,229 L222.5,229.2 L223.8,229.4 L225,229.5 L226.2,229.7 L227.4,229.8 L228.6,230 L229.8,230.1 L231,230.2 L232.2,230.3 L233.5,230.4 L234.7,230.5 L235.9,230.5 L237.1,230.6 L238.3,230.7 L239.6,230.7 L240.8,230.7 L242,230.7 L243.3,230.8 L244.5,230.8 L245.8,230.7 L247,230.7 L248.3,230.7 L249.5,230.7 L250.7,230.6 L251.9,230.5 L253.1,230.5 L254.3,230.4 L255.4,230.3 L256.5,230.2 L257.6,230.1 L258.7,230 L259.7,229.8 L260.7,229.7 L261.8,229.5 L262.8,229.3 L263.8,229.2 L264.7,229 L265.7,228.8 L266.7,228.6 L267.6,228.4 L268.5,228.2 L269.4,227.9 L270.3,227.7 L271.1,227.5 L272,227.3 L272.8,227.1 L273.7,226.8 L274.6,226.6 L275.4,226.3 L276.3,226 L277.1,225.7 L277.9,225.5 L278.3,225.3" fill="none" stroke="#2e2726" stroke-width="1.55" stroke-linecap="round"/>
<path d="M283.5,223.4 L276.9,231.1 L277.9,225.5 L273.5,221.7 Z" fill="#2e2726"/>
<path d="M386,164.5 L384.9,164.5 L383.5,164.5 L382,164.5 L380.2,164.5 L378.3,164.5 L376.2,164.5 L374.1,164.5 L371.9,164.5 L369.6,164.5 L367.3,164.5 L365.1,164.6 L362.8,164.7 L360.7,164.8 L358.7,165 L356.7,165.2 L355,165.5 L353.4,165.8 L351.8,166.1 L350.2,166.5 L348.7,166.8 L347.2,167.2 L345.7,167.6 L344.3,168.1 L342.9,168.5 L341.5,169 L340.2,169.6 L338.9,170.2 L337.7,170.9 L336.4,171.6 L335.3,172.3 L334.1,173.1 L333,174 L331.9,175 L330.9,176.1 L329.8,177.4 L328.8,178.8 L327.8,180.2 L326.9,181.7 L326,183.2 L325.1,184.8 L324.3,186.3 L323.5,187.8 L322.8,189.2 L322.6,189.6" fill="none" stroke="#2e2726" stroke-width="1.55" stroke-linecap="round"/>
<path d="M320,194.5 L319.7,184.4 L322.8,189.2 L328.5,189 Z" fill="#2e2726"/>
<path d="M421,177.5 L421.2,177.9 L421.5,178.3 L421.8,178.9 L422.1,179.5 L422.5,180.1 L422.8,180.8 L423.3,181.6 L423.7,182.3 L424.1,183.1 L424.6,183.9 L425.1,184.6 L425.7,185.4 L426.2,186.1 L426.8,186.8 L427.4,187.4 L428,188 L428.6,188.5 L429.2,189.1 L429.9,189.6 L430.5,190.1 L431.1,190.6 L431.8,191.1 L432.5,191.6 L433.2,192.1 L434,192.5 L434.8,193 L435.6,193.4 L436.6,193.8 L437.6,194.1 L438.6,194.4 L439.8,194.7 L441,195 L442.4,195.2 L444,195.4 L445.7,195.6 L447.6,195.7 L449.5,195.8 L451.5,195.9 L453.6,195.9 L455.7,195.9 L457.7,196 L459.7,196 L461.6,196 L463.3,196" fill="none" stroke="#2e2726" stroke-width="1.55" stroke-linecap="round"/>
<path d="M468.8,196 L459.9,201 L462.8,196 L460,191 Z" fill="#2e2726"/>
<path d="M74.9,254.4 L74.9,254.8 L74.8,255.3 L74.8,255.8 L74.7,256.5 L74.7,257.2 L74.6,257.9 L74.5,258.7 L74.4,259.5 L74.4,260.3 L74.3,261.1 L74.3,261.9 L74.3,262.8 L74.3,263.6 L74.4,264.3 L74.5,265.1 L74.6,265.8 L74.8,266.5 L74.9,267.1 L75.1,267.8 L75.3,268.4 L75.5,269.1 L75.8,269.7 L76.1,270.3 L76.3,270.9 L76.7,271.6 L77,272.2 L77.4,272.9 L77.7,273.5 L78.1,274.2 L78.6,274.8 L79,275.5 L79.5,276.2 L80,276.9 L80.6,277.7 L81.3,278.6 L82.1,279.4 L82.8,280.3 L83.6,281.2 L84.4,282.1 L85.3,282.9 L86.1,283.8 L86.6,284.4" fill="none" stroke="#2e2726" stroke-width="1.55" stroke-linecap="round"/>
<path d="M90.4,288.4 L80.7,285.4 L86.3,284 L88,278.6 Z" fill="#2e2726"/>
<path d="M131,321.5 L131.8,322.2 L132.9,323 L134.2,324 L135.7,325.2 L137.3,326.4 L139,327.7 L140.7,329.1 L142.5,330.5 L144.3,331.9 L146,333.3 L147.7,334.6 L149.3,335.8 L149.7,336.1" fill="none" stroke="#2e2726" stroke-width="1.55" stroke-linecap="round"/>
<path d="M154,339.5 L144,338 L149.3,335.8 L150.2,330.1 Z" fill="#2e2726"/>
<path d="M145.5,295.5 L146.7,295.3 L148.2,294.9 L149.8,294.5 L151.7,294.1 L153.7,293.6 L155.9,293.1 L158.2,292.5 L160.6,292 L163,291.5 L165.5,291 L168,290.5 L170.5,290 L173,289.7 L175.4,289.4 L177.8,289.1 L180,289 L182.2,288.9 L184.3,288.9 L186.5,288.9 L188.7,289 L190.8,289.1 L193,289.2 L195.2,289.4 L197.3,289.6 L199.5,289.9 L201.7,290.2 L203.9,290.5 L206.1,290.9 L208.3,291.4 L210.5,291.9 L212.8,292.4 L215,293 L217.3,293.7 L219.8,294.5 L222.3,295.5 L225,296.5 L227.7,297.7 L230.4,298.8 L233,300 L235.7,301.2 L238.3,302.5 L240.7,303.6 L243.1,304.8 L245.3,305.8 L247,306.7" fill="none" stroke="#2e2726" stroke-width="1.55" stroke-linecap="round"/>
<path d="M252,309 L241.9,309.8 L246.6,306.4 L246.2,300.7 Z" fill="#2e2726"/>
<path d="M309,234.5 L308.5,234.9 L307.8,235.4 L306.9,235.9 L306,236.5 L305,237.2 L303.9,237.9 L302.8,238.6 L301.7,239.4 L300.5,240.2 L299.4,241 L298.3,241.8 L297.3,242.7 L296.3,243.5 L295.4,244.4 L294.6,245.2 L294,246 L293.5,246.8 L293,247.6 L292.6,248.5 L292.2,249.3 L291.9,250.2 L291.7,251.1 L291.5,252 L291.3,252.9 L291.2,253.8 L291.1,254.7 L291,255.6 L291,256.5 L291,257.4 L291,258.3 L291,259.1 L291,260 L291.1,260.8 L291.1,261.7 L291.3,262.5 L291.4,263.3 L291.6,264.2 L291.8,265 L292.1,265.8 L292.3,266.6 L292.6,267.4 L292.9,268.2 L293.2,269 L293.6,269.8 L293.9,270.6 L294.3,271.4 L294.6,272.2 L295,273 L295.4,273.8 L295.9,274.6 L296.4,275.5 L296.9,276.4 L297.5,277.2 L298.1,278.1 L298.7,279 L299.2,279.8 L299.8,280.5" fill="none" stroke="#2e2726" stroke-width="1.55" stroke-linecap="round"/>
<path d="M303,285 L293.8,280.8 L299.5,280.1 L301.9,274.9 Z" fill="#2e2726"/>
<path d="M423.8,285 L423.1,285 L422.5,284.9 L421.7,284.8 L420.9,284.7 L420,284.6 L419,284.5 L418,284.4 L416.8,284.3 L415.7,284.3 L414.4,284.2 L413.1,284.2 L411.7,284.1 L410.3,284.2 L408.7,284.2 L407.1,284.3 L405.5,284.5 L403.7,284.7 L401.9,284.9 L399.8,285.2 L397.7,285.5 L395.5,285.8 L393.2,286.2 L390.9,286.5 L388.5,286.9 L386.1,287.3 L383.7,287.8 L381.3,288.3 L378.9,288.8 L376.6,289.3 L374.3,289.8 L372.1,290.4 L370,291 L367.9,291.6 L365.8,292.4 L363.6,293.2 L361.4,294 L359.2,295 L357,295.9 L354.9,296.8 L352.8,297.8 L350.8,298.7 L348.8,299.6 L347,300.5 L345.3,301.3 L345,301.4" fill="none" stroke="#2e2726" stroke-width="1.55" stroke-linecap="round"/>
<path d="M340,303.8 L345.9,295.5 L345.4,301.2 L350.1,304.6 Z" fill="#2e2726"/>
<path d="M299.5,346.8 L299.4,348.3 L299.2,350.4 L299,352.8 L298.8,355.5 L298.5,358.5 L298.3,361.7 L298,365 L297.8,368.4 L297.5,371.7 L297.2,375 L297,378.2 L296.7,381.2 L296.5,383.9 L296.4,384.5" fill="none" stroke="#2e2726" stroke-width="1.55" stroke-linecap="round"/>
<path d="M296,390 L291.7,380.8 L296.5,384 L301.7,381.6 Z" fill="#2e2726"/>
<path d="M170.7,382.9 L170.6,383.5 L170.5,384.3 L170.3,385.2 L170.1,386.2 L169.9,387.3 L169.7,388.5 L169.5,389.7 L169.3,391 L169.1,392.3 L168.9,393.6 L168.8,395 L168.7,396.4 L168.7,397.7 L168.8,399 L169,400.3 L169.2,401.5 L169.5,402.7 L169.8,404 L170.2,405.3 L170.6,406.6 L171.1,408 L171.6,409.3 L172.2,410.7 L172.8,412 L173.5,413.4 L174.2,414.6 L175,415.9 L175.8,417.1 L176.8,418.2 L177.8,419.2 L178.8,420.2 L180,421 L181.3,421.8 L182.8,422.4 L184.5,423 L186.4,423.6 L188.3,424.1 L190.3,424.5 L192.4,424.9 L194.5,425.2 L196.5,425.5 L198.5,425.8 L200.4,426 L202.2,426.2" fill="none" stroke="#2e2726" stroke-width="1.55" stroke-linecap="round"/>
<path d="M207.6,427 L198.2,430.8 L201.7,426.2 L199.6,420.8 Z" fill="#2e2726"/>
<path d="M556,188 L557.1,187.9 L558.3,187.8 L559.8,187.6 L561.4,187.4 L563.2,187.2 L565,186.9 L567,186.7 L569.1,186.4 L571.2,186.2 L573.4,186 L575.6,185.8 L577.8,185.7 L579.9,185.6 L582,185.5 L584.1,185.5 L586,185.6 L587.9,185.7 L590,186 L592.1,186.3 L594.2,186.6 L596.4,187 L598.6,187.4 L600.8,187.9 L603,188.3 L605.1,188.8 L607.1,189.3 L609,189.7 L610.8,190.2 L610.8,190.2" fill="none" stroke="#2e2726" stroke-width="1.55" stroke-linecap="round"/>
<path d="M616.2,191.4 L606.5,194.3 L610.4,190.1 L608.7,184.6 Z" fill="#2e2726"/>
<path d="M551.8,199.2 L552.6,199.4 L553.6,199.5 L554.8,199.6 L556.2,199.7 L557.7,199.8 L559.2,199.9 L560.9,200.1 L562.6,200.2 L564.3,200.4 L566,200.6 L567.7,200.9 L569.4,201.1 L571,201.4 L572.4,201.7 L573.8,202.1 L575,202.5 L576.1,202.9 L577.1,203.4 L578.1,203.9 L579,204.5 L579.9,205.1 L580.7,205.7 L581.5,206.3 L582.2,207 L583,207.7 L583.7,208.4 L584.3,209.1 L585,209.8 L585.6,210.5 L586.3,211.1 L586.9,211.8 L587.5,212.5 L588.1,213.2 L588.7,213.9 L589.3,214.7 L589.9,215.5 L590.5,216.3 L591,217.1 L591.5,217.9 L592,218.8 L592.2,219" fill="none" stroke="#2e2726" stroke-width="1.55" stroke-linecap="round"/>
<path d="M595,223.8 L586.2,218.8 L591.9,218.6 L594.8,213.6 Z" fill="#2e2726"/>
<path d="M541,211.8 L541.3,212 L541.7,212.4 L542.2,212.8 L542.8,213.2 L543.4,213.7 L544,214.2 L544.7,214.7 L545.4,215.3 L546.1,215.9 L546.7,216.5 L547.4,217.1 L548,217.7 L548.6,218.3 L549.1,218.9 L549.6,219.4 L550,220 L550.3,220.5 L550.6,221.1 L550.9,221.6 L551.1,222.2 L551.3,222.8 L551.4,223.3 L551.6,223.9 L551.7,224.5 L551.8,225 L551.9,225.6 L551.9,226.2 L551.9,226.7 L552,227.3 L552,227.9 L552,228.4 L552,229 L552,229.6 L551.9,230.2 L551.8,230.8 L551.7,231.5 L551.6,232.1 L551.5,232.7" fill="none" stroke="#2e2726" stroke-width="1.55" stroke-linecap="round"/>
<path d="M550,238 L547.4,228.2 L551.5,232.2 L557.1,230.8 Z" fill="#2e2726"/>
<path d="M670.8,213 L670.5,213.5 L670.3,214 L669.9,214.7 L669.6,215.5 L669.2,216.3 L668.9,217.2 L668.4,218.1 L668,219.1 L667.5,220.1 L667.1,221 L666.6,222 L666.1,222.9 L665.6,223.8 L665,224.6 L664.5,225.3 L664,226 L663.5,226.6 L662.9,227.1 L662.4,227.7 L661.8,228.1 L661.2,228.6 L660.7,229 L660.1,229.4 L659.5,229.8 L658.8,230.2 L658.2,230.5 L657.5,230.9 L656.9,231.2 L656.2,231.5 L655.5,231.9 L654.7,232.2 L654,232.5 L653.2,232.8 L652.3,233.1 L651.4,233.4 L650.5,233.7 L649.5,234 L648.4,234.3 L647.4,234.5 L646.4,234.8 L645.4,235 L645.4,235" fill="none" stroke="#2e2726" stroke-width="1.55" stroke-linecap="round"/>
<path d="M640,236.2 L647.4,229.4 L645.8,234.9 L649.7,239.1 Z" fill="#2e2726"/>
<path d="M598.8,258 L598.4,258.3 L598,258.7 L597.6,259.2 L597.1,259.7 L596.5,260.2 L595.9,260.8 L595.3,261.5 L594.6,262.1 L593.9,262.7 L593.2,263.4 L592.5,264 L591.8,264.6 L591.1,265.2 L590.4,265.7 L589.7,266.1 L589,266.5 L588.3,266.8 L587.6,267.1 L586.9,267.4 L586.2,267.6 L585.5,267.8 L584.8,268 L584.1,268.2 L583.3,268.3 L582.6,268.5 L581.8,268.6 L581,268.7 L580.3,268.8 L579.5,268.8 L578.7,268.9 L577.8,269 L577,269 L576.1,269 L575.2,269 L574.2,269 L573.1,269 L572,268.9 L570.9,268.8 L569.8,268.8 L568.8,268.7 L567.7,268.6 L567.5,268.5" fill="none" stroke="#2e2726" stroke-width="1.55" stroke-linecap="round"/>
<path d="M562,268 L571.2,263.9 L568,268.6 L570.3,273.8 Z" fill="#2e2726"/>
<path d="M513.5,246.5 L512.7,246.4 L511.8,246.3 L510.7,246.2 L509.5,246 L508.1,245.8 L506.7,245.7 L505.2,245.5 L503.7,245.3 L502.1,245.1 L500.5,245 L498.9,244.9 L497.4,244.8 L495.9,244.8 L494.5,244.8 L493.2,244.9 L492,245 L490.9,245.2 L489.8,245.4 L488.7,245.7 L487.6,246 L486.6,246.4 L485.6,246.7 L484.6,247.2 L483.6,247.6 L482.7,248.1 L481.8,248.6 L480.9,249.2 L480.1,249.7 L479.4,250.4 L478.7,251 L478,251.7 L477.4,252.4 L476.9,253.2 L476.4,254.1 L475.9,255.1 L475.6,256.2 L475.2,257.3 L474.9,258.5 L474.7,259.7 L474.5,260.9 L474.3,262 L474.2,263" fill="none" stroke="#2e2726" stroke-width="1.55" stroke-linecap="round"/>
<path d="M473.4,268.4 L469.7,259 L474.3,262.5 L479.6,260.4 Z" fill="#2e2726"/>
<path d="M464.5,318 L464.6,318.9 L464.6,319.9 L464.8,321.1 L464.9,322.4 L465,323.8 L465.2,325.4 L465.4,327 L465.5,328.7 L465.6,330.4 L465.7,332.2 L465.8,334 L465.9,335.8 L465.9,337.5 L465.8,339.2 L465.7,340.9 L465.5,342.5 L465.3,344.1 L465,345.6 L464.8,347.2 L464.5,348.8 L464.2,350.4 L463.9,352 L463.5,353.6 L463.1,355.2 L462.7,356.7 L462.1,358.3 L461.6,359.9 L460.9,361.4 L460.2,363 L459.4,364.5 L458.5,366 L457.5,367.5 L456.4,369 L455,370.5 L453.5,372.1 L451.9,373.7 L450.1,375.3 L448.3,376.9 L446.4,378.5 L444.5,380.1 L442.6,381.6 L440.8,383 L439,384.4 L437.4,385.6 L436.8,386.1" fill="none" stroke="#2e2726" stroke-width="1.55" stroke-linecap="round"/>
<path d="M432.5,389.5 L436.3,380.1 L437.2,385.8 L442.5,388 Z" fill="#2e2726"/>
<path d="M592.9,423.6 L593.6,423 L594.4,422.3 L595.5,421.4 L596.6,420.5 L597.8,419.5 L599.2,418.4 L600.5,417.3 L601.9,416.1 L603.4,414.9 L604.8,413.6 L606.2,412.3 L607.6,411.1 L608.8,409.8 L610,408.5 L611.1,407.2 L612,406 L612.8,404.8 L613.6,403.5 L614.3,402.2 L615,400.9 L615.7,399.6 L616.3,398.2 L616.9,396.9 L617.4,395.5 L617.9,394.2 L618.3,392.8 L618.7,391.5 L619,390.1 L619.3,388.8 L619.6,387.5 L619.8,386.2 L620,385 L620.1,383.8 L620.2,382.6 L620.2,381.4 L620.1,380.2 L620,379.1 L619.9,377.9 L619.7,376.8 L619.4,375.7 L619.2,374.6 L618.9,373.5 L618.6,372.4 L618.3,371.3 L618,370.2 L617.6,369.1 L617.3,368.1 L617,367 L616.7,365.9 L616.3,364.8 L615.8,363.6 L615.4,362.5 L614.9,361.3 L614.4,360.2 L613.8,359 L613.3,357.9 L612.8,356.8 L612.4,356" fill="none" stroke="#2e2726" stroke-width="1.55" stroke-linecap="round"/>
<path d="M610,351 L618.3,356.8 L612.6,356.4 L609.3,361.1 Z" fill="#2e2726"/>
<path d="M721.8,240.5 L722.2,239.9 L722.8,239.2 L723.4,238.4 L724.2,237.5 L725,236.6 L725.9,235.5 L726.8,234.4 L727.7,233.3 L728.6,232.1 L729.6,230.9 L730.5,229.7 L731.3,228.5 L732.1,227.3 L732.8,226.2 L733.5,225.1 L734,224 L734.5,223 L734.9,221.9 L735.2,220.9 L735.6,219.9 L735.9,218.8 L736.1,217.8 L736.4,216.8 L736.6,215.8 L736.7,214.7 L736.8,213.7 L736.9,212.7 L737,211.6 L737,210.6 L736.9,209.6 L736.9,208.5 L736.8,207.5 L736.6,206.5 L736.4,205.4 L736.2,204.4 L735.9,203.3 L735.6,202.3 L735.3,201.2 L734.9,200.1 L734.5,199.1 L734,198 L733.5,197 L733,196 L732.5,194.9 L731.9,193.9 L731.3,192.9 L730.7,192 L730,191 L729.3,190 L728.5,189 L727.6,188 L726.6,187 L725.6,186 L724.5,185 L723.4,183.9 L722.3,183 L721.3,182 L720.2,181.1 L719.6,180.6" fill="none" stroke="#2e2726" stroke-width="1.55" stroke-linecap="round"/>
<path d="M715.5,177 L725.4,179 L720,180.9 L718.8,186.6 Z" fill="#2e2726"/>
<path d="M639.7,470.4 L640.2,470.3 L640.8,470.1 L641.5,469.9 L642.3,469.8 L643.1,469.6 L644,469.3 L645,469.1 L646,468.8 L647,468.6 L648,468.3 L649.1,468.1 L650.1,467.8 L651.2,467.5 L652.2,467.2 L653.2,467 L654.1,466.7 L655,466.4 L655.9,466.2 L656.9,465.9 L657.8,465.6 L658.8,465.4 L659.7,465.1 L660.7,464.8 L661.6,464.5 L662.6,464.2 L663.5,463.9 L664.4,463.6 L665.4,463.3 L666.3,463 L667.2,462.7 L668.1,462.3 L669,462 L669.9,461.6 L670.7,461.3 L671.6,460.9 L672.4,460.6 L673.3,460.2 L674.1,459.8 L674.9,459.5 L675.7,459.1 L676.6,458.7 L677.4,458.3 L678.2,457.8 L679,457.4 L679.9,456.9 L680.7,456.4 L681.5,455.9 L682.4,455.4 L683.3,454.8 L684.2,454.3 L685.1,453.7 L686,453 L686.9,452.4 L687.9,451.7 L688.8,451 L689.7,450.3 L690.6,449.6 L691.6,448.9 L692.5,448.2 L693.3,447.5 L694.2,446.8 L695,446.1 L695.8,445.5 L696.6,444.8 L697.3,444.2 L698.1,443.5 L698.8,442.9 L699.5,442.2 L700.1,441.6 L700.8,440.9 L701.4,440.3 L702,439.7 L702.6,439 L703.2,438.4 L703.8,437.8 L704.4,437.2 L704.9,436.6 L705.5,436 L706,435.5 L706.5,434.9 L707,434.4 L707.4,434 L707.8,433.6 L708.2,433.3 L708.5,433 L708.8,432.7 L709.1,432.4 L709.4,432.1 L709.8,431.7 L710.1,431.3 L710.4,430.9 L710.8,430.4 L711.2,429.7 L711.7,429 L712.2,428.1 L712.8,427.1 L713.4,426 L714.1,424.7 L714.9,423.3 L715.7,421.9 L716.6,420.3 L717.4,418.7 L718.3,417 L719.2,415.3 L720.1,413.4 L721.1,411.6 L722,409.7 L722.8,407.8 L723.7,405.8 L724.5,403.9 L725.3,401.9 L726,400 L726.7,398 L727.4,395.9 L728,393.8 L728.7,391.6 L729.4,389.4 L730,387.1 L730.6,384.8 L731.2,382.5 L731.8,380.2 L732.3,377.9 L732.8,375.6 L733.3,373.4 L733.8,371.2 L734.2,369 L734.6,367 L735,365 L735.3,363.1 L735.7,361.3 L736,359.5 L736.2,357.7 L736.5,356 L736.7,354.4 L736.9,352.8 L737.1,351.1 L737.2,349.5 L737.3,347.9 L737.4,346.3 L737.4,344.7 L737.4,343.1 L737.3,341.4 L737.2,339.7 L737,338 L736.8,336.2 L736.4,334.3 L736,332.2 L735.5,330.2 L734.9,328 L734.3,325.9 L733.7,323.8 L733,321.7 L732.3,319.6 L731.7,317.7 L731.1,315.8 L730.5,314.1 L730.4,314" fill="none" stroke="#2e2726" stroke-width="1.55" stroke-linecap="round"/>
<path d="M728.8,308.8 L736.2,315.6 L730.6,314.5 L726.7,318.7 Z" fill="#2e2726"/>
<path d="M440.8,431.1 L441.3,432.4 L442,433.9 L442.6,435.3 L443.4,436.8 L444.3,438.3 L445.2,439.8 L446.2,441.3 L447.3,442.8 L448.4,444.3 L449.6,445.7 L450.9,447.1 L452.2,448.5 L453.6,449.8 L455,451 L456.6,452.2 L458.3,453.3 L460.3,454.5 L462.4,455.7 L464.5,456.8 L466.8,457.9 L469.1,458.9 L471.4,460 L473.7,460.9 L476,461.9 L478.2,462.8 L480.2,463.6 L482.2,464.3 L483.9,465 L485.5,465.7 L486.8,466.2 L487.9,466.6 L488.9,467 L489.7,467.3 L490.4,467.4 L491,467.5 L491.4,467.6 L491.8,467.6 L492.1,467.5 L492.4,467.5 L492.6,467.4 L492.7,467.3 L492.9,467.2 L493,467.1 L493.2,467 L493.3,467 L493.5,467 L497,468 L497,476 L492.5,476.6 L492,476.5 L491.4,476.4 L490.7,476.3 L489.9,476.1 L489.1,476 L488.2,475.8 L487.2,475.7 L486.2,475.5 L485.2,475.3 L484.1,475.1 L483,474.9 L481.9,474.7 L480.7,474.5 L479.5,474.2 L478.4,474 L477.2,473.7 L476,473.4 L474.8,473.1 L473.6,472.8 L472.4,472.4 L471.2,472.1 L469.9,471.7 L468.7,471.3 L467.3,470.9 L466,470.6 L464.6,470.2 L463.1,469.8 L461.6,469.4 L460.1,469 L458.4,468.7 L456.8,468.3 L455,468 L453.2,467.7 L451.3,467.4 L449.3,467 L447.3,466.7 L445.2,466.4 L443,466.1 L440.8,465.8 L438.6,465.5 L436.3,465.2 L434.1,464.9 L431.7,464.6 L429.4,464.4 L427.1,464.1 Z" fill="url(#bigarrow)"/>
<path d="M445,412.2 L444.8,412.8 L444.5,413.5 L444.1,414.2 L443.6,415 L443.1,415.9 L442.6,416.9 L442.1,417.9 L441.6,419 L441.1,420.1 L440.6,421.2 L440.3,422.4 L440,423.6 L439.8,424.8 L439.7,426.1 L439.8,427.3 L440,428.5 L440.4,429.7 L440.8,431.1 L441.3,432.4 L442,433.9 L442.6,435.3 L443.4,436.8 L444.3,438.3 L445.2,439.8 L446.2,441.3 L447.3,442.8 L448.4,444.3 L449.6,445.7 L450.9,447.1 L452.2,448.5 L453.6,449.8 L455,451 L456.6,452.2 L458.3,453.3 L460.3,454.5 L462.4,455.7 L464.5,456.8 L466.8,457.9 L469.1,458.9 L471.4,460 L473.7,460.9 L476,461.9 L478.2,462.8 L480.2,463.6 L482.2,464.3 L483.9,465 L485.5,465.7 L486.8,466.2 L487.9,466.6 L488.9,467 L489.7,467.3 L490.4,467.4 L491,467.5 L491.4,467.6 L491.8,467.6 L492.1,467.5 L492.4,467.5 L492.6,467.4 L492.7,467.3 L492.9,467.2 L493,467.1 L493.2,467 L493.3,467 L493.5,467" fill="none" stroke="#26323c" stroke-width="1.6"/>
<path d="M322,470.2 L323,470 L324.1,469.7 L325.5,469.4 L327,469 L328.6,468.6 L330.4,468.1 L332.2,467.7 L334.1,467.2 L336.1,466.8 L338.1,466.3 L340.2,465.8 L342.2,465.4 L344.2,465 L346.2,464.6 L348.1,464.3 L350,464 L351.8,463.8 L353.6,463.5 L355.4,463.3 L357.1,463.1 L358.9,462.9 L360.7,462.8 L362.4,462.6 L364.2,462.5 L366.1,462.4 L367.9,462.3 L369.8,462.2 L371.8,462.2 L373.7,462.1 L375.8,462.1 L377.8,462 L380,462 L382.2,462 L384.6,462 L387,462 L389.4,462.1 L391.9,462.1 L394.5,462.2 L397.1,462.3 L399.7,462.3 L402.3,462.4 L404.9,462.6 L407.5,462.7 L410.1,462.8 L412.7,463 L415.2,463.1 L417.6,463.3 L420,463.5 L422.3,463.7 L424.7,463.9 L427.1,464.1 L429.4,464.4 L431.7,464.6 L434.1,464.9 L436.3,465.2 L438.6,465.5 L440.8,465.8 L443,466.1 L445.2,466.4 L447.3,466.7 L449.3,467 L451.3,467.4 L453.2,467.7 L455,468 L456.8,468.3 L458.4,468.7 L460.1,469 L461.6,469.4 L463.1,469.8 L464.6,470.2 L466,470.6 L467.3,470.9 L468.7,471.3 L469.9,471.7 L471.2,472.1 L472.4,472.4 L473.6,472.8 L474.8,473.1 L476,473.4 L477.2,473.7 L478.4,474 L479.5,474.2 L480.7,474.5 L481.9,474.7 L483,474.9 L484.1,475.1 L485.2,475.3 L486.2,475.5 L487.2,475.7 L488.2,475.8 L489.1,476 L489.9,476.1 L490.7,476.3 L491.4,476.4 L492,476.5 L492.5,476.6" fill="none" stroke="#26323c" stroke-width="1.6"/>
<path d="M493.5,467 L494.5,460 L506.5,472.5 L492.5,484 L492.5,476.6" fill="#1b8fd6" stroke="#26323c" stroke-width="1.6" stroke-linejoin="miter"/>
<path d="M199.5,42.4 L167,48.8 M164.4,41 L168,57" fill="none" stroke="#e2343f" stroke-width="2.6"/>
<path d="M526.8,140 L524.5,162 M516.2,161.5 L532.5,163.5" fill="none" stroke="#e2343f" stroke-width="2.6"/>
<path d="M278,192 L293.2,201.8 M297.5,195.5 L288.8,208" fill="none" stroke="#e2343f" stroke-width="2.6"/>
<path d="M132.5,245 L111.2,236.2 M113.8,228.8 L108,243.8" fill="none" stroke="#e2343f" stroke-width="2.6"/>
<path d="M120,360.8 L145,360.8 M145.2,352.6 L145.2,368.5" fill="none" stroke="#e2343f" stroke-width="2.6"/>
<path d="M571.2,165 L550,173.8 M547,167.5 L553.8,181.2" fill="none" stroke="#2e2726" stroke-width="2.3"/>
<path d="M628.3,314.1 L648.8,295.7 M643.5,289.7 L655.3,302" fill="none" stroke="#2e2726" stroke-width="2.3"/>
<ellipse cx="78.4" cy="231.6" rx="26.2" ry="15.3" fill="#ac529f" stroke="#45203f" stroke-width="1.5"/>
<text x="78.4" y="235.4" font-size="11" fill="#fff" text-anchor="middle" textLength="21" lengthAdjust="spacingAndGlyphs" >MEK</text>
<ellipse cx="108.9" cy="305.8" rx="26" ry="15" fill="#ac529f" stroke="#45203f" stroke-width="1.5"/>
<text x="108.9" y="309.6" font-size="11" fill="#fff" text-anchor="middle" textLength="18" lengthAdjust="spacingAndGlyphs" >ERK</text>
<ellipse cx="178.2" cy="357.8" rx="26" ry="15.3" fill="#ac529f" stroke="#45203f" stroke-width="1.5"/>
<text x="178.2" y="361.6" font-size="11" fill="#fff" text-anchor="middle" textLength="28" lengthAdjust="spacingAndGlyphs" >STAT3</text>
<ellipse cx="321.8" cy="216.2" rx="29" ry="14.6" fill="#14a3aa" stroke="#1d4640" stroke-width="1.5"/>
<text x="321.8" y="220" font-size="11" fill="#fff" text-anchor="middle" textLength="33.5" lengthAdjust="spacingAndGlyphs" >JAK 1/2</text>
<ellipse cx="299.8" cy="316.5" rx="37.8" ry="21" fill="#14a3aa" stroke="#1d4640" stroke-width="1.5"/>
<text x="299.8" y="323" font-size="18.8" fill="#fff" text-anchor="middle" textLength="38.3" lengthAdjust="spacingAndGlyphs" >STAT1</text>
<ellipse cx="513.2" cy="187.6" rx="36.5" ry="20.5" fill="#0e7a49" stroke="#0b5232" stroke-width="1.5"/>
<text x="513.2" y="193.3" font-size="16.6" fill="#fff" text-anchor="middle" textLength="28.5" lengthAdjust="spacingAndGlyphs" >PI3K</text>
<ellipse cx="600.2" cy="158.2" rx="24.8" ry="13" fill="#0e7a49" stroke="#0b5232" stroke-width="1.5"/>
<text x="600.2" y="161.7" font-size="10" fill="#fff" text-anchor="middle" textLength="22.8" lengthAdjust="spacingAndGlyphs" >PTEN</text>
<ellipse cx="647" cy="195.8" rx="24.5" ry="13.5" fill="#0e7a49" stroke="#0b5232" stroke-width="1.5"/>
<text x="647" y="199.2" font-size="10" fill="#fff" text-anchor="middle" textLength="18" lengthAdjust="spacingAndGlyphs" >PKC</text>
<ellipse cx="610" cy="238.3" rx="25" ry="13.3" fill="#0e7a49" stroke="#0b5232" stroke-width="1.5"/>
<text x="610" y="241.9" font-size="10.5" fill="#fff" text-anchor="middle" textLength="35" lengthAdjust="spacingAndGlyphs" >PDK 1/2</text>
<ellipse cx="539.5" cy="253.8" rx="23.8" ry="13.5" fill="#0e7a49" stroke="#0b5232" stroke-width="1.5"/>
<text x="539.5" y="257.2" font-size="10" fill="#fff" text-anchor="middle" textLength="17" lengthAdjust="spacingAndGlyphs" >AKT</text>
<ellipse cx="466" cy="292" rx="31.8" ry="17.8" fill="#0e7a49" stroke="#0b5232" stroke-width="1.5"/>
<text x="466" y="296.5" font-size="13" fill="#fff" text-anchor="middle" textLength="29.8" lengthAdjust="spacingAndGlyphs" >NFκB</text>
<ellipse cx="293" cy="407.3" rx="28.5" ry="14.6" fill="#14a3aa" stroke="#1d4640" stroke-width="1.5"/>
<text x="293" y="411.3" font-size="11.5" fill="#fff" text-anchor="middle" textLength="29.5" lengthAdjust="spacingAndGlyphs" >STAT1</text>
<ellipse cx="240" cy="434.3" rx="28.5" ry="14.8" fill="#ac529f" stroke="#45203f" stroke-width="1.5"/>
<text x="240" y="438.3" font-size="11.5" fill="#fff" text-anchor="middle" textLength="29.5" lengthAdjust="spacingAndGlyphs" >STAT3</text>
<ellipse cx="349" cy="432.9" rx="28.8" ry="14.7" fill="#d96c3e" stroke="#4a2a1e" stroke-width="1.5"/>
<text x="349" y="437" font-size="11.8" fill="#5f281b" text-anchor="middle" textLength="32.5" lengthAdjust="spacingAndGlyphs" stroke="#5f281b" stroke-width="0.35">HIF-1α</text>
<ellipse cx="403.5" cy="404.7" rx="29" ry="14.8" fill="#0e7a49" stroke="#0b5232" stroke-width="1.5"/>
<text x="403.5" y="408.7" font-size="11.5" fill="#fff" text-anchor="middle" textLength="26.2" lengthAdjust="spacingAndGlyphs" >NFκB</text>
<path d="M460,430 L580.5,430" stroke="#26323c" stroke-width="1.6"/>
<ellipse cx="487.5" cy="414" rx="28" ry="15.6" fill="#3a66b0" stroke="#1f2f55" stroke-width="1.5"/>
<text x="487.5" y="418.3" font-size="12.5" fill="#fff" text-anchor="middle" textLength="20.8" lengthAdjust="spacingAndGlyphs" >p53</text>
<rect x="520" y="414" width="50" height="16" fill="#3463ad" stroke="#1f2f55" stroke-width="1"/>
<text x="544.5" y="426.6" font-size="12.2" fill="#fff" text-anchor="middle" textLength="40" lengthAdjust="spacingAndGlyphs" >miR-34</text>
<path d="M546.75,414 L546.75,399 L567,399" fill="none" stroke="#26323c" stroke-width="1.7"/>
<path d="M574.2,399 L564.2,394 L567,399 L564.2,404 Z" fill="#26323c"/>
<path d="M400,488.6 L621,488.6" stroke="#26323c" stroke-width="1.6"/>
<rect x="511" y="469" width="93.5" height="18.8" fill="#b4272e" stroke="#5b1a1c" stroke-width="1"/>
<text x="555.3" y="483.4" font-size="13.8" fill="#fff" text-anchor="middle" textLength="33" lengthAdjust="spacingAndGlyphs" >PD-L1</text>
<path d="M584,469 L584,450 L604,450" fill="none" stroke="#26323c" stroke-width="1.7"/>
<path d="M611,450 L601,445 L603.8,450 L601,455 Z" fill="#26323c"/>
<ellipse cx="726" cy="287" rx="36.5" ry="15.8" fill="url(#rib)" stroke="#33204f" stroke-width="1.7"/>
<path d="M656.2,279.8 L656.5,279.7 L656.8,279.5 L657.2,279.3 L657.6,279.1 L658.1,278.9 L658.6,278.6 L659.2,278.4 L659.7,278.1 L660.3,277.9 L660.9,277.7 L661.4,277.5 L662,277.3 L662.5,277.1 L663,277 L663.5,276.9 L664,276.8 L664.6,276.7 L665.1,276.6 L665.7,276.4 L666.3,276.3 L666.9,276.2 L667.6,276.1 L668.4,276 L669.3,275.9 L670.3,275.8 L671.3,275.6 L672.5,275.5 L673.7,275.3 L674.9,275.2 L676.2,275 L677.5,274.9 L678.8,274.7 L680.2,274.6 L681.5,274.5 L682.8,274.3 L684,274.2 L685.2,274.1 L686.5,274 L687.8,273.8 L689.1,273.7 L690.4,273.6 L691.6,273.5 L692.9,273.4 L694.1,273.3 L695.3,273.2 L696.4,273.2 L697.4,273.1 L698.4,273 L699.3,272.9 L700.1,272.9 L701,272.8 L701.7,272.8 L702.4,272.7 L703.1,272.7 L703.7,272.6 L704.3,272.6 L704.8,272.6 L705.3,272.5 L705.7,272.5 L706,272.5" fill="none" stroke="#33231f" stroke-width="2.0" stroke-linecap="round"/>
<path d="M656.2,279.8 L659.2,285 M661.3,277.5 L664.3,282.7 M666.8,276.3 L669.8,281.5 M672.4,275.5 L675.4,280.7 M678,274.8 L681,280 M683.6,274.2 L686.6,279.4 M689.2,273.7 L692.2,278.9 M694.8,273.3 L697.8,278.5 M700.4,272.9 L703.4,278.1 M706,272.5 L709,277.7" fill="none" stroke="#33231f" stroke-width="1.7"/>
<path d="M742,268.5 L742.2,268.5 L742.3,268.5 L742.5,268.5 L742.7,268.4 L742.9,268.4 L743.2,268.4 L743.5,268.4 L743.8,268.3 L744.3,268.2 L744.8,268 L745.5,267.8 L746.2,267.5 L747.1,267.1 L748.1,266.7 L749.3,266.2 L750.6,265.7 L751.9,265.1 L753.3,264.5 L754.7,263.9 L756.1,263.3 L757.5,262.7 L758.8,262.1 L760.1,261.5 L761.2,260.9 L762.2,260.4 L763.2,259.8 L764.2,259.3 L765.1,258.8 L766,258.3 L766.9,257.8 L767.7,257.3 L768.6,256.8 L769.4,256.2 L770.2,255.6 L770.9,255 L771.7,254.4 L772.5,253.7 L773.2,253 L773.9,252.3 L774.6,251.5 L775.2,250.7 L775.9,249.9 L776.5,249.1 L777.2,248.3 L777.8,247.5 L778.4,246.7 L779,246 L779.6,245.2 L780.2,244.5 L780.7,243.7 L781.3,243 L781.8,242.2 L782.3,241.5 L782.8,240.7 L783.3,240 L783.9,239.3 L784.4,238.6 L785,238 L785.6,237.3 L786.2,236.7 L786.9,236.1 L787.6,235.6 L788.3,235 L789,234.5 L789.8,234 L790.6,233.6 L791.3,233.1 L792.1,232.6 L792.9,232.2 L793.8,231.7 L794.6,231.2 L795.4,230.7 L796.3,230.2 L797.2,229.6 L798.2,229 L799.2,228.3 L800.2,227.7 L801.2,227.1 L802.2,226.5 L803.1,225.9 L804,225.4 L804.7,224.9 L805.4,224.5 L805.9,224.2" fill="none" stroke="#33231f" stroke-width="2.0" stroke-linecap="round"/>
<path d="M742,268.5 L744.9,273.9 M746.5,267.4 L749.4,272.8 M750.8,265.6 L753.7,271 M755.1,263.8 L758,269.2 M759.4,261.8 L762.3,267.2 M763.5,259.7 L766.4,265.1 M767.6,257.4 L770.5,262.8 M771.4,254.7 L774.3,260.1 M774.7,251.4 L777.6,256.8 M777.6,247.7 L780.5,253.1 M780.5,244.1 L783.4,249.5 M783.2,240.2 L786.1,245.6 M786.2,236.7 L789.1,242.1 M790,233.9 L792.9,239.3 M794,231.6 L796.9,237 M797.9,229.1 L800.8,234.5 M801.9,226.6 L804.8,232 M805.9,224.2 L808.8,229.6" fill="none" stroke="#33231f" stroke-width="1.7"/>
<ellipse cx="721.75" cy="263.8" rx="24.6" ry="15.2" fill="url(#rib)" stroke="#33204f" stroke-width="1.7"/>
<path d="M600,322 L600.3,322.2 L600.6,322.6 L601,322.9 L601.4,323.3 L601.9,323.8 L602.4,324.3 L603,324.8 L603.6,325.2 L604.2,325.7 L604.9,326.1 L605.6,326.5 L606.4,326.8 L607.2,327.1 L608.2,327.3 L609.2,327.5 L610.2,327.6 L611.4,327.8 L612.5,327.9 L613.6,328 L614.8,328.2 L615.9,328.3 L617,328.4 L618,328.6 L619,328.8 L619.9,329 L620.8,329.2 L621.7,329.4 L622.6,329.7 L623.4,329.9 L624.2,330.1 L625,330.4 L625.8,330.6 L626.5,330.9 L627.3,331.1 L628,331.4 L628.7,331.7 L629.4,332 L630.1,332.3 L630.8,332.7 L631.4,333.1 L632.1,333.5 L632.7,333.8 L633.3,334.2 L633.8,334.6 L634.3,334.9 L634.8,335.2 L635.2,335.4 L635.5,335.6" fill="none" stroke="#33231f" stroke-width="1.6" stroke-linecap="round"/>
<path d="M602.8,324.6 L605,320.7 M606.1,326.7 L608.3,322.8 M609.9,327.6 L612.1,323.7 M613.7,328.1 L615.9,324.2 M617.6,328.5 L619.8,324.6 M621.4,329.4 L623.6,325.5 M625.1,330.4 L627.3,326.5 M628.8,331.7 L631,327.8 M632.2,333.5 L634.4,329.6 M635.5,335.6 L637.7,331.7" fill="none" stroke="#33231f" stroke-width="1.35"/>
<text x="596.7" y="339.6" font-size="7.8" fill="#4a3329" text-anchor="start" textLength="26.7" lengthAdjust="spacingAndGlyphs" >miR-34</text>
<rect x="204" y="23.4" width="82.6" height="62.6" fill="#fff" stroke="#333" stroke-width="1.3"/>
<text x="244.8" y="38.2" font-size="11.5" fill="#d83a50" text-anchor="middle" textLength="52.2" lengthAdjust="spacingAndGlyphs" >Cetuximab</text>
<text x="244.8" y="52.2" font-size="11.5" fill="#3b3b3b" text-anchor="middle" textLength="68.7" lengthAdjust="spacingAndGlyphs" >Zalutumumab</text>
<text x="244.8" y="66.2" font-size="11.5" fill="#3b3b3b" text-anchor="middle" textLength="38.2" lengthAdjust="spacingAndGlyphs" >Sym004</text>
<text x="244.8" y="80.2" font-size="11.5" fill="#3b3b3b" text-anchor="middle" textLength="39.8" lengthAdjust="spacingAndGlyphs" >Erlotinib</text>
<rect x="507.2" y="58.2" width="68.8" height="73.6" fill="#fff" stroke="#333" stroke-width="1.3"/>
<text x="541" y="72.4" font-size="11.5" fill="#d83a50" text-anchor="middle" textLength="59" lengthAdjust="spacingAndGlyphs" >INCB050465</text>
<text x="541" y="86.4" font-size="11.5" fill="#3b3b3b" text-anchor="middle" textLength="35.7" lengthAdjust="spacingAndGlyphs" >BYL719</text>
<text x="541" y="100.2" font-size="11.5" fill="#3b3b3b" text-anchor="middle" textLength="35.1" lengthAdjust="spacingAndGlyphs" >SF1126</text>
<text x="541" y="114.2" font-size="11.5" fill="#3b3b3b" text-anchor="middle" textLength="34.4" lengthAdjust="spacingAndGlyphs" >PX-866</text>
<text x="540" y="128.3" font-size="11.5" fill="#3b3b3b" text-anchor="middle" textLength="39.6" lengthAdjust="spacingAndGlyphs" >BKM120</text>
<rect x="196.8" y="159.7" width="77.5" height="31.5" fill="#fff" stroke="#333" stroke-width="1.3"/>
<text x="233.8" y="174.1" font-size="11.5" fill="#d83a50" text-anchor="middle" textLength="59" lengthAdjust="spacingAndGlyphs" >INCB039110</text>
<text x="234" y="187.8" font-size="11.5" fill="#3b3b3b" text-anchor="middle" textLength="52" lengthAdjust="spacingAndGlyphs" >Ruxolitinib</text>
<rect x="140.6" y="240.4" width="67.2" height="19" fill="#fff" stroke="#333" stroke-width="1.3"/>
<text x="173.3" y="255" font-size="11.5" fill="#3b3b3b" text-anchor="middle" textLength="55" lengthAdjust="spacingAndGlyphs" >Sulemitinib</text>
<rect x="57.8" y="351.8" width="55" height="19.4" fill="#fff" stroke="#333" stroke-width="1.3"/>
<text x="85.2" y="366.5" font-size="11.5" fill="#d83a50" text-anchor="middle" textLength="44" lengthAdjust="spacingAndGlyphs" >AZD9150</text>
<rect x="713" y="339.6" width="105.8" height="150.7" fill="#fff" stroke="#333" stroke-width="1.3"/>
<path d="M713,354.1 L818.8,354.1 M713,368.3 L818.8,368.3 M713,383.2 L818.8,383.2 M713,398.2 L818.8,398.2 M713,413.5 L818.8,413.5 M713,428.6 L818.8,428.6 M713,443.5 L818.8,443.5 M713,459 L818.8,459 M713,474 L818.8,474 M784.1,339.6 L784.1,490.3" stroke="#444" stroke-width="1.1" fill="none"/>
<text x="741" y="350.8" font-size="9.5" fill="#383838" text-anchor="middle" textLength="22.2" lengthAdjust="spacingAndGlyphs" >Gene</text>
<text x="801.1" y="350.8" font-size="9.5" fill="#383838" text-anchor="middle" textLength="14.2" lengthAdjust="spacingAndGlyphs" >Alt.</text>
<text x="716.8" y="365" font-size="11.6" fill="#383838" text-anchor="start" textLength="24.3" lengthAdjust="spacingAndGlyphs" >TP53</text>
<text x="745" y="364.8" font-size="8.6" fill="#383838" text-anchor="start" textLength="21.3" lengthAdjust="spacingAndGlyphs" >(p53)</text>
<text x="801.1" y="365" font-size="11.6" fill="#383838" text-anchor="middle" textLength="21.8" lengthAdjust="spacingAndGlyphs" >72%</text>
<text x="716.8" y="380.3" font-size="11.6" fill="#383838" text-anchor="start" textLength="36" lengthAdjust="spacingAndGlyphs" >PIK3CA</text>
<text x="756.7" y="380.1" font-size="8.6" fill="#383838" text-anchor="start" textLength="23.3" lengthAdjust="spacingAndGlyphs" >(PI3K)</text>
<text x="801.1" y="380.3" font-size="11.6" fill="#383838" text-anchor="middle" textLength="21.8" lengthAdjust="spacingAndGlyphs" >35%</text>
<text x="716.8" y="395" font-size="11.6" fill="#383838" text-anchor="start" textLength="26.2" lengthAdjust="spacingAndGlyphs" >EGFR</text>
<text x="801.1" y="395" font-size="11.6" fill="#383838" text-anchor="middle" textLength="20.8" lengthAdjust="spacingAndGlyphs" >14%</text>
<text x="716.8" y="410.4" font-size="11.6" fill="#383838" text-anchor="start" textLength="37" lengthAdjust="spacingAndGlyphs" >JAK 1/2</text>
<text x="801.1" y="410.4" font-size="11.6" fill="#383838" text-anchor="middle" textLength="15.2" lengthAdjust="spacingAndGlyphs" >9%</text>
<text x="716.8" y="425.3" font-size="11.6" fill="#383838" text-anchor="start" textLength="25.5" lengthAdjust="spacingAndGlyphs" >PTEN</text>
<text x="801.1" y="425.3" font-size="11.6" fill="#383838" text-anchor="middle" textLength="15.2" lengthAdjust="spacingAndGlyphs" >6%</text>
<text x="716.8" y="440.2" font-size="11.6" fill="#383838" text-anchor="start" textLength="35.3" lengthAdjust="spacingAndGlyphs" >MAPK1</text>
<text x="755.8" y="440" font-size="8.6" fill="#383838" text-anchor="start" textLength="21" lengthAdjust="spacingAndGlyphs" >(ERK)</text>
<text x="801.1" y="440.2" font-size="11.6" fill="#383838" text-anchor="middle" textLength="15.2" lengthAdjust="spacingAndGlyphs" >4%</text>
<text x="716.8" y="455.5" font-size="11.6" fill="#383838" text-anchor="start" textLength="28" lengthAdjust="spacingAndGlyphs" >STAT1</text>
<text x="801.1" y="455.5" font-size="11.6" fill="#383838" text-anchor="middle" textLength="15.2" lengthAdjust="spacingAndGlyphs" >4%</text>
<text x="716.8" y="470.8" font-size="11.6" fill="#383838" text-anchor="start" textLength="28.5" lengthAdjust="spacingAndGlyphs" >STAT3</text>
<text x="801.1" y="470.8" font-size="11.6" fill="#383838" text-anchor="middle" textLength="23.3" lengthAdjust="spacingAndGlyphs" >1.6%</text>
<text x="716.8" y="485.7" font-size="11.6" fill="#383838" text-anchor="start" textLength="33.3" lengthAdjust="spacingAndGlyphs" >PRKCA</text>
<text x="754.2" y="485.5" font-size="8.6" fill="#383838" text-anchor="start" textLength="20.5" lengthAdjust="spacingAndGlyphs" >(PKC)</text>
<text x="801.1" y="485.7" font-size="11.6" fill="#383838" text-anchor="middle" textLength="23.3" lengthAdjust="spacingAndGlyphs" >1.6%</text>
</svg></body></html>
